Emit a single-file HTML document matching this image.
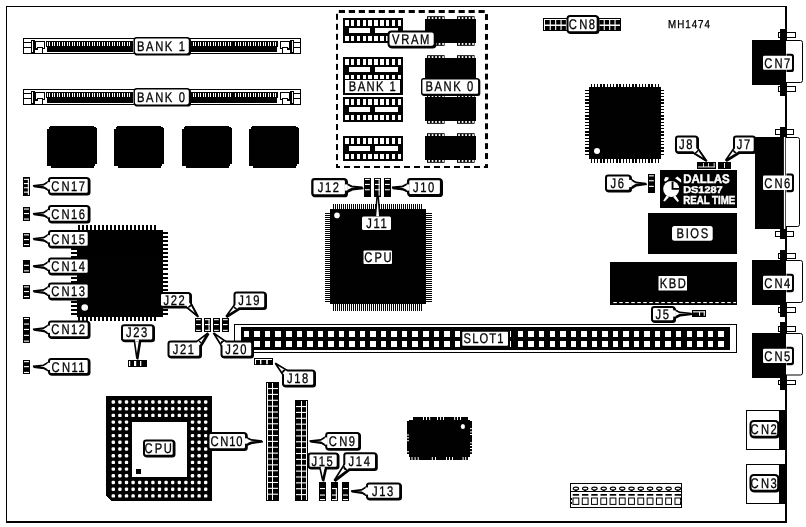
<!DOCTYPE html>
<html lang="en">
<head>
<meta charset="utf-8">
<title>MH1474 motherboard layout</title>
<style>
html,body{margin:0;padding:0;background:#fff;}
body{width:806px;height:527px;overflow:hidden;}
svg{display:block;font-family:"Liberation Sans",sans-serif;opacity:0.999;will-change:transform;}
svg rect,svg line,svg path{shape-rendering:crispEdges;}
svg .g, svg .g *{shape-rendering:geometricPrecision;}
svg text{text-rendering:geometricPrecision;}
</style>
</head>
<body>
<svg width="806" height="527" viewBox="0 0 806 527">
<rect x="0" y="0" width="806" height="527" fill="#fff"/>
<rect x="6" y="6" width="781" height="1" fill="#000" />
<rect x="6" y="6" width="1" height="517" fill="#000" />
<rect x="785" y="6" width="2" height="517" fill="#000" />
<rect x="6" y="521" width="781" height="2" fill="#000" />
<rect x="23.5" y="38.5" width="277" height="15" fill="#fff" stroke="#000" stroke-width="1"/>
<rect x="23" y="42" width="8" height="1" fill="#000" />
<rect x="23" y="47" width="8" height="1" fill="#000" />
<rect x="31" y="40" width="4" height="14" fill="#000" />
<rect x="32" y="41" width="1" height="11" fill="#fff" />
<rect x="35" y="41" width="10" height="1" fill="#000" />
<rect x="44" y="41" width="1" height="8" fill="#000" />
<rect x="43" y="48" width="2" height="1" fill="#000" />
<rect x="37" y="47" width="6" height="1" fill="#000" />
<rect x="35" y="41" width="1" height="9" fill="#000" />
<rect x="35" y="48" width="3" height="2" fill="#000" />
<rect x="42" y="47" width="1" height="7" fill="#000" />
<rect x="46" y="41" width="87" height="6" fill="#000" />
<rect x="47" y="46" width="86" height="6" fill="#000" />
<rect x="47" y="42" width="1" height="4" fill="#fff" />
<rect x="49" y="42" width="1" height="4" fill="#fff" />
<rect x="52" y="42" width="1" height="4" fill="#fff" />
<rect x="54" y="42" width="1" height="4" fill="#fff" />
<rect x="57" y="42" width="1" height="4" fill="#fff" />
<rect x="59" y="42" width="1" height="4" fill="#fff" />
<rect x="62" y="42" width="1" height="4" fill="#fff" />
<rect x="64" y="42" width="1" height="4" fill="#fff" />
<rect x="67" y="42" width="1" height="4" fill="#fff" />
<rect x="69" y="42" width="1" height="4" fill="#fff" />
<rect x="72" y="42" width="1" height="4" fill="#fff" />
<rect x="74" y="42" width="1" height="4" fill="#fff" />
<rect x="77" y="42" width="1" height="4" fill="#fff" />
<rect x="79" y="42" width="1" height="4" fill="#fff" />
<rect x="82" y="42" width="1" height="4" fill="#fff" />
<rect x="84" y="42" width="1" height="4" fill="#fff" />
<rect x="87" y="42" width="1" height="4" fill="#fff" />
<rect x="89" y="42" width="1" height="4" fill="#fff" />
<rect x="92" y="42" width="1" height="4" fill="#fff" />
<rect x="94" y="42" width="1" height="4" fill="#fff" />
<rect x="97" y="42" width="1" height="4" fill="#fff" />
<rect x="99" y="42" width="1" height="4" fill="#fff" />
<rect x="102" y="42" width="1" height="4" fill="#fff" />
<rect x="104" y="42" width="1" height="4" fill="#fff" />
<rect x="107" y="42" width="1" height="4" fill="#fff" />
<rect x="109" y="42" width="1" height="4" fill="#fff" />
<rect x="112" y="42" width="1" height="4" fill="#fff" />
<rect x="114" y="42" width="1" height="4" fill="#fff" />
<rect x="117" y="42" width="1" height="4" fill="#fff" />
<rect x="119" y="42" width="1" height="4" fill="#fff" />
<rect x="122" y="42" width="1" height="4" fill="#fff" />
<rect x="124" y="42" width="1" height="4" fill="#fff" />
<rect x="127" y="42" width="1" height="4" fill="#fff" />
<rect x="129" y="42" width="1" height="4" fill="#fff" />
<rect x="191" y="41" width="87" height="6" fill="#000" />
<rect x="191" y="46" width="86" height="6" fill="#000" />
<rect x="193" y="42" width="1" height="4" fill="#fff" />
<rect x="195" y="42" width="1" height="4" fill="#fff" />
<rect x="198" y="42" width="1" height="4" fill="#fff" />
<rect x="200" y="42" width="1" height="4" fill="#fff" />
<rect x="203" y="42" width="1" height="4" fill="#fff" />
<rect x="205" y="42" width="1" height="4" fill="#fff" />
<rect x="208" y="42" width="1" height="4" fill="#fff" />
<rect x="210" y="42" width="1" height="4" fill="#fff" />
<rect x="213" y="42" width="1" height="4" fill="#fff" />
<rect x="215" y="42" width="1" height="4" fill="#fff" />
<rect x="218" y="42" width="1" height="4" fill="#fff" />
<rect x="220" y="42" width="1" height="4" fill="#fff" />
<rect x="223" y="42" width="1" height="4" fill="#fff" />
<rect x="225" y="42" width="1" height="4" fill="#fff" />
<rect x="228" y="42" width="1" height="4" fill="#fff" />
<rect x="230" y="42" width="1" height="4" fill="#fff" />
<rect x="235" y="42" width="1" height="4" fill="#fff" />
<rect x="238" y="42" width="1" height="4" fill="#fff" />
<rect x="240" y="42" width="1" height="4" fill="#fff" />
<rect x="243" y="42" width="1" height="4" fill="#fff" />
<rect x="245" y="42" width="1" height="4" fill="#fff" />
<rect x="248" y="42" width="1" height="4" fill="#fff" />
<rect x="250" y="42" width="1" height="4" fill="#fff" />
<rect x="253" y="42" width="1" height="4" fill="#fff" />
<rect x="255" y="42" width="1" height="4" fill="#fff" />
<rect x="258" y="42" width="1" height="4" fill="#fff" />
<rect x="260" y="42" width="1" height="4" fill="#fff" />
<rect x="263" y="42" width="1" height="4" fill="#fff" />
<rect x="265" y="42" width="1" height="4" fill="#fff" />
<rect x="268" y="42" width="1" height="4" fill="#fff" />
<rect x="270" y="42" width="1" height="4" fill="#fff" />
<rect x="273" y="42" width="1" height="4" fill="#fff" />
<rect x="275" y="42" width="1" height="4" fill="#fff" />
<rect x="280" y="41" width="10" height="1" fill="#000" />
<rect x="280" y="41" width="1" height="8" fill="#000" />
<rect x="280" y="48" width="2" height="1" fill="#000" />
<rect x="282" y="47" width="6" height="1" fill="#000" />
<rect x="289" y="41" width="1" height="9" fill="#000" />
<rect x="287" y="48" width="3" height="2" fill="#000" />
<rect x="282" y="47" width="1" height="7" fill="#000" />
<rect x="290" y="40" width="4" height="14" fill="#000" />
<rect x="292" y="41" width="1" height="11" fill="#fff" />
<rect x="294" y="42" width="7" height="1" fill="#000" />
<rect x="294" y="47" width="7" height="1" fill="#000" />
<rect x="23.5" y="89.5" width="277" height="15" fill="#fff" stroke="#000" stroke-width="1"/>
<rect x="23" y="93" width="8" height="1" fill="#000" />
<rect x="23" y="98" width="8" height="1" fill="#000" />
<rect x="31" y="91" width="4" height="14" fill="#000" />
<rect x="32" y="92" width="1" height="11" fill="#fff" />
<rect x="35" y="92" width="10" height="1" fill="#000" />
<rect x="44" y="92" width="1" height="8" fill="#000" />
<rect x="43" y="99" width="2" height="1" fill="#000" />
<rect x="37" y="98" width="6" height="1" fill="#000" />
<rect x="35" y="92" width="1" height="9" fill="#000" />
<rect x="35" y="99" width="3" height="2" fill="#000" />
<rect x="42" y="98" width="1" height="7" fill="#000" />
<rect x="46" y="92" width="87" height="6" fill="#000" />
<rect x="47" y="97" width="86" height="6" fill="#000" />
<rect x="47" y="93" width="1" height="4" fill="#fff" />
<rect x="49" y="93" width="1" height="4" fill="#fff" />
<rect x="52" y="93" width="1" height="4" fill="#fff" />
<rect x="54" y="93" width="1" height="4" fill="#fff" />
<rect x="57" y="93" width="1" height="4" fill="#fff" />
<rect x="59" y="93" width="1" height="4" fill="#fff" />
<rect x="62" y="93" width="1" height="4" fill="#fff" />
<rect x="64" y="93" width="1" height="4" fill="#fff" />
<rect x="67" y="93" width="1" height="4" fill="#fff" />
<rect x="69" y="93" width="1" height="4" fill="#fff" />
<rect x="72" y="93" width="1" height="4" fill="#fff" />
<rect x="74" y="93" width="1" height="4" fill="#fff" />
<rect x="77" y="93" width="1" height="4" fill="#fff" />
<rect x="79" y="93" width="1" height="4" fill="#fff" />
<rect x="82" y="93" width="1" height="4" fill="#fff" />
<rect x="84" y="93" width="1" height="4" fill="#fff" />
<rect x="87" y="93" width="1" height="4" fill="#fff" />
<rect x="89" y="93" width="1" height="4" fill="#fff" />
<rect x="92" y="93" width="1" height="4" fill="#fff" />
<rect x="94" y="93" width="1" height="4" fill="#fff" />
<rect x="97" y="93" width="1" height="4" fill="#fff" />
<rect x="99" y="93" width="1" height="4" fill="#fff" />
<rect x="102" y="93" width="1" height="4" fill="#fff" />
<rect x="104" y="93" width="1" height="4" fill="#fff" />
<rect x="107" y="93" width="1" height="4" fill="#fff" />
<rect x="109" y="93" width="1" height="4" fill="#fff" />
<rect x="112" y="93" width="1" height="4" fill="#fff" />
<rect x="114" y="93" width="1" height="4" fill="#fff" />
<rect x="117" y="93" width="1" height="4" fill="#fff" />
<rect x="119" y="93" width="1" height="4" fill="#fff" />
<rect x="122" y="93" width="1" height="4" fill="#fff" />
<rect x="124" y="93" width="1" height="4" fill="#fff" />
<rect x="127" y="93" width="1" height="4" fill="#fff" />
<rect x="129" y="93" width="1" height="4" fill="#fff" />
<rect x="191" y="92" width="87" height="6" fill="#000" />
<rect x="191" y="97" width="86" height="6" fill="#000" />
<rect x="193" y="93" width="1" height="4" fill="#fff" />
<rect x="195" y="93" width="1" height="4" fill="#fff" />
<rect x="198" y="93" width="1" height="4" fill="#fff" />
<rect x="200" y="93" width="1" height="4" fill="#fff" />
<rect x="203" y="93" width="1" height="4" fill="#fff" />
<rect x="205" y="93" width="1" height="4" fill="#fff" />
<rect x="208" y="93" width="1" height="4" fill="#fff" />
<rect x="210" y="93" width="1" height="4" fill="#fff" />
<rect x="213" y="93" width="1" height="4" fill="#fff" />
<rect x="215" y="93" width="1" height="4" fill="#fff" />
<rect x="218" y="93" width="1" height="4" fill="#fff" />
<rect x="220" y="93" width="1" height="4" fill="#fff" />
<rect x="223" y="93" width="1" height="4" fill="#fff" />
<rect x="225" y="93" width="1" height="4" fill="#fff" />
<rect x="228" y="93" width="1" height="4" fill="#fff" />
<rect x="230" y="93" width="1" height="4" fill="#fff" />
<rect x="235" y="93" width="1" height="4" fill="#fff" />
<rect x="238" y="93" width="1" height="4" fill="#fff" />
<rect x="240" y="93" width="1" height="4" fill="#fff" />
<rect x="243" y="93" width="1" height="4" fill="#fff" />
<rect x="245" y="93" width="1" height="4" fill="#fff" />
<rect x="248" y="93" width="1" height="4" fill="#fff" />
<rect x="250" y="93" width="1" height="4" fill="#fff" />
<rect x="253" y="93" width="1" height="4" fill="#fff" />
<rect x="255" y="93" width="1" height="4" fill="#fff" />
<rect x="258" y="93" width="1" height="4" fill="#fff" />
<rect x="260" y="93" width="1" height="4" fill="#fff" />
<rect x="263" y="93" width="1" height="4" fill="#fff" />
<rect x="265" y="93" width="1" height="4" fill="#fff" />
<rect x="268" y="93" width="1" height="4" fill="#fff" />
<rect x="270" y="93" width="1" height="4" fill="#fff" />
<rect x="273" y="93" width="1" height="4" fill="#fff" />
<rect x="275" y="93" width="1" height="4" fill="#fff" />
<rect x="280" y="92" width="10" height="1" fill="#000" />
<rect x="280" y="92" width="1" height="8" fill="#000" />
<rect x="280" y="99" width="2" height="1" fill="#000" />
<rect x="282" y="98" width="6" height="1" fill="#000" />
<rect x="289" y="92" width="1" height="9" fill="#000" />
<rect x="287" y="99" width="3" height="2" fill="#000" />
<rect x="282" y="98" width="1" height="7" fill="#000" />
<rect x="290" y="91" width="4" height="14" fill="#000" />
<rect x="292" y="92" width="1" height="11" fill="#fff" />
<rect x="294" y="93" width="7" height="1" fill="#000" />
<rect x="294" y="98" width="7" height="1" fill="#000" />
<path d="M50,126 H94 V127 H96 V128 H97 V164 H95 V166 H94 V168 H51 V166 H47 V129 H49 V127 H50 Z" fill="#000"/>
<path d="M117,126 H161 V127 H163 V128 H164 V164 H162 V166 H161 V168 H118 V166 H114 V129 H116 V127 H117 Z" fill="#000"/>
<path d="M185,126 H229 V127 H231 V128 H232 V164 H230 V166 H229 V168 H186 V166 H182 V129 H184 V127 H185 Z" fill="#000"/>
<path d="M252,126 H296 V127 H298 V128 H299 V164 H297 V166 H296 V168 H253 V166 H249 V129 H251 V127 H252 Z" fill="#000"/>
<rect x="338.8" y="10" width="6.2" height="3" fill="#000" class="g"/>
<rect x="348.78" y="10" width="6.2" height="3" fill="#000" class="g"/>
<rect x="358.76" y="10" width="6.2" height="3" fill="#000" class="g"/>
<rect x="368.74" y="10" width="6.2" height="3" fill="#000" class="g"/>
<rect x="378.72" y="10" width="6.2" height="3" fill="#000" class="g"/>
<rect x="388.7" y="10" width="6.2" height="3" fill="#000" class="g"/>
<rect x="398.68" y="10" width="6.2" height="3" fill="#000" class="g"/>
<rect x="408.66" y="10" width="6.2" height="3" fill="#000" class="g"/>
<rect x="418.64" y="10" width="6.2" height="3" fill="#000" class="g"/>
<rect x="428.62" y="10" width="6.2" height="3" fill="#000" class="g"/>
<rect x="438.6" y="10" width="6.2" height="3" fill="#000" class="g"/>
<rect x="448.58" y="10" width="6.2" height="3" fill="#000" class="g"/>
<rect x="458.56" y="10" width="6.2" height="3" fill="#000" class="g"/>
<rect x="468.54" y="10" width="6.2" height="3" fill="#000" class="g"/>
<rect x="478.52" y="10" width="6.2" height="3" fill="#000" class="g"/>
<rect x="344" y="166" width="6" height="2" fill="#000" class="g"/>
<rect x="354" y="166" width="6" height="2" fill="#000" class="g"/>
<rect x="364" y="166" width="6" height="2" fill="#000" class="g"/>
<rect x="374" y="166" width="6" height="2" fill="#000" class="g"/>
<rect x="384" y="166" width="6" height="2" fill="#000" class="g"/>
<rect x="394" y="166" width="6" height="2" fill="#000" class="g"/>
<rect x="404" y="166" width="6" height="2" fill="#000" class="g"/>
<rect x="414" y="166" width="6" height="2" fill="#000" class="g"/>
<rect x="424" y="166" width="6" height="2" fill="#000" class="g"/>
<rect x="434" y="166" width="6" height="2" fill="#000" class="g"/>
<rect x="444" y="166" width="6" height="2" fill="#000" class="g"/>
<rect x="454" y="166" width="6" height="2" fill="#000" class="g"/>
<rect x="464" y="166" width="6" height="2" fill="#000" class="g"/>
<rect x="474" y="166" width="6" height="2" fill="#000" class="g"/>
<rect x="336" y="164" width="2" height="4" fill="#000" class="g"/>
<rect x="336" y="166" width="4" height="2" fill="#000" class="g"/>
<rect x="485" y="164.1" width="3" height="3.9" fill="#000" class="g"/>
<rect x="483.9" y="166" width="4.1" height="2" fill="#000" class="g"/>
<rect x="336" y="13.8" width="2" height="6" fill="#000" class="g"/>
<rect x="485" y="14.1" width="3" height="5.9" fill="#000" class="g"/>
<rect x="336" y="23.82" width="2" height="6" fill="#000" class="g"/>
<rect x="485" y="24.03" width="3" height="5.9" fill="#000" class="g"/>
<rect x="336" y="33.84" width="2" height="6" fill="#000" class="g"/>
<rect x="485" y="33.96" width="3" height="5.9" fill="#000" class="g"/>
<rect x="336" y="43.86" width="2" height="6" fill="#000" class="g"/>
<rect x="485" y="43.89" width="3" height="5.9" fill="#000" class="g"/>
<rect x="336" y="53.88" width="2" height="6" fill="#000" class="g"/>
<rect x="485" y="53.82" width="3" height="5.9" fill="#000" class="g"/>
<rect x="336" y="63.9" width="2" height="6" fill="#000" class="g"/>
<rect x="485" y="63.75" width="3" height="5.9" fill="#000" class="g"/>
<rect x="336" y="73.92" width="2" height="6" fill="#000" class="g"/>
<rect x="485" y="73.68" width="3" height="5.9" fill="#000" class="g"/>
<rect x="336" y="83.94" width="2" height="6" fill="#000" class="g"/>
<rect x="485" y="83.61" width="3" height="5.9" fill="#000" class="g"/>
<rect x="336" y="93.96" width="2" height="6" fill="#000" class="g"/>
<rect x="485" y="93.54" width="3" height="5.9" fill="#000" class="g"/>
<rect x="336" y="103.98" width="2" height="6" fill="#000" class="g"/>
<rect x="485" y="103.47" width="3" height="5.9" fill="#000" class="g"/>
<rect x="336" y="114" width="2" height="6" fill="#000" class="g"/>
<rect x="485" y="113.4" width="3" height="5.9" fill="#000" class="g"/>
<rect x="336" y="124.02" width="2" height="6" fill="#000" class="g"/>
<rect x="485" y="123.33" width="3" height="5.9" fill="#000" class="g"/>
<rect x="336" y="134.04" width="2" height="6" fill="#000" class="g"/>
<rect x="485" y="133.26" width="3" height="5.9" fill="#000" class="g"/>
<rect x="336" y="144.06" width="2" height="6" fill="#000" class="g"/>
<rect x="485" y="143.19" width="3" height="5.9" fill="#000" class="g"/>
<rect x="336" y="154.08" width="2" height="6" fill="#000" class="g"/>
<rect x="485" y="153.12" width="3" height="5.9" fill="#000" class="g"/>
<rect x="343" y="18" width="60" height="24.5" fill="#000" />
<rect x="345" y="20" width="3.5" height="6" fill="#fff" />
<rect x="345" y="36" width="3.5" height="5" fill="#fff" />
<rect x="350.5" y="20" width="3.5" height="6" fill="#fff" />
<rect x="350.5" y="36" width="3.5" height="5" fill="#fff" />
<rect x="356.5" y="20" width="3.5" height="6" fill="#fff" />
<rect x="356.5" y="36" width="3.5" height="5" fill="#fff" />
<rect x="362.5" y="20" width="3.5" height="6" fill="#fff" />
<rect x="362.5" y="36" width="3.5" height="5" fill="#fff" />
<rect x="368" y="20" width="3.5" height="6" fill="#fff" />
<rect x="368" y="36" width="3.5" height="5" fill="#fff" />
<rect x="374" y="20" width="3.5" height="6" fill="#fff" />
<rect x="374" y="36" width="3.5" height="5" fill="#fff" />
<rect x="380" y="20" width="3.5" height="6" fill="#fff" />
<rect x="380" y="36" width="3.5" height="5" fill="#fff" />
<rect x="385.5" y="20" width="3.5" height="6" fill="#fff" />
<rect x="385.5" y="36" width="3.5" height="5" fill="#fff" />
<rect x="391.5" y="20" width="3.5" height="6" fill="#fff" />
<rect x="391.5" y="36" width="3.5" height="5" fill="#fff" />
<rect x="397.5" y="20" width="3.5" height="6" fill="#fff" />
<rect x="397.5" y="36" width="3.5" height="5" fill="#fff" />
<rect x="349" y="27.5" width="21" height="5.5" fill="#fff" />
<rect x="375" y="27.5" width="22.5" height="5.5" fill="#fff" />
<rect x="343" y="57" width="60" height="24.5" fill="#000" />
<rect x="345" y="59" width="3.5" height="6" fill="#fff" />
<rect x="345" y="75" width="3.5" height="5" fill="#fff" />
<rect x="350.5" y="59" width="3.5" height="6" fill="#fff" />
<rect x="350.5" y="75" width="3.5" height="5" fill="#fff" />
<rect x="356.5" y="59" width="3.5" height="6" fill="#fff" />
<rect x="356.5" y="75" width="3.5" height="5" fill="#fff" />
<rect x="362.5" y="59" width="3.5" height="6" fill="#fff" />
<rect x="362.5" y="75" width="3.5" height="5" fill="#fff" />
<rect x="368" y="59" width="3.5" height="6" fill="#fff" />
<rect x="368" y="75" width="3.5" height="5" fill="#fff" />
<rect x="374" y="59" width="3.5" height="6" fill="#fff" />
<rect x="374" y="75" width="3.5" height="5" fill="#fff" />
<rect x="380" y="59" width="3.5" height="6" fill="#fff" />
<rect x="380" y="75" width="3.5" height="5" fill="#fff" />
<rect x="385.5" y="59" width="3.5" height="6" fill="#fff" />
<rect x="385.5" y="75" width="3.5" height="5" fill="#fff" />
<rect x="391.5" y="59" width="3.5" height="6" fill="#fff" />
<rect x="391.5" y="75" width="3.5" height="5" fill="#fff" />
<rect x="397.5" y="59" width="3.5" height="6" fill="#fff" />
<rect x="397.5" y="75" width="3.5" height="5" fill="#fff" />
<rect x="349" y="66.5" width="21" height="5.5" fill="#fff" />
<rect x="375" y="66.5" width="22.5" height="5.5" fill="#fff" />
<rect x="343" y="97" width="60" height="24.5" fill="#000" />
<rect x="345" y="99" width="3.5" height="6" fill="#fff" />
<rect x="345" y="115" width="3.5" height="5" fill="#fff" />
<rect x="350.5" y="99" width="3.5" height="6" fill="#fff" />
<rect x="350.5" y="115" width="3.5" height="5" fill="#fff" />
<rect x="356.5" y="99" width="3.5" height="6" fill="#fff" />
<rect x="356.5" y="115" width="3.5" height="5" fill="#fff" />
<rect x="362.5" y="99" width="3.5" height="6" fill="#fff" />
<rect x="362.5" y="115" width="3.5" height="5" fill="#fff" />
<rect x="368" y="99" width="3.5" height="6" fill="#fff" />
<rect x="368" y="115" width="3.5" height="5" fill="#fff" />
<rect x="374" y="99" width="3.5" height="6" fill="#fff" />
<rect x="374" y="115" width="3.5" height="5" fill="#fff" />
<rect x="380" y="99" width="3.5" height="6" fill="#fff" />
<rect x="380" y="115" width="3.5" height="5" fill="#fff" />
<rect x="385.5" y="99" width="3.5" height="6" fill="#fff" />
<rect x="385.5" y="115" width="3.5" height="5" fill="#fff" />
<rect x="391.5" y="99" width="3.5" height="6" fill="#fff" />
<rect x="391.5" y="115" width="3.5" height="5" fill="#fff" />
<rect x="397.5" y="99" width="3.5" height="6" fill="#fff" />
<rect x="397.5" y="115" width="3.5" height="5" fill="#fff" />
<rect x="349" y="106.5" width="21" height="5.5" fill="#fff" />
<rect x="375" y="106.5" width="22.5" height="5.5" fill="#fff" />
<rect x="343" y="136" width="60" height="24.5" fill="#000" />
<rect x="345" y="138" width="3.5" height="6" fill="#fff" />
<rect x="345" y="154" width="3.5" height="5" fill="#fff" />
<rect x="350.5" y="138" width="3.5" height="6" fill="#fff" />
<rect x="350.5" y="154" width="3.5" height="5" fill="#fff" />
<rect x="356.5" y="138" width="3.5" height="6" fill="#fff" />
<rect x="356.5" y="154" width="3.5" height="5" fill="#fff" />
<rect x="362.5" y="138" width="3.5" height="6" fill="#fff" />
<rect x="362.5" y="154" width="3.5" height="5" fill="#fff" />
<rect x="368" y="138" width="3.5" height="6" fill="#fff" />
<rect x="368" y="154" width="3.5" height="5" fill="#fff" />
<rect x="374" y="138" width="3.5" height="6" fill="#fff" />
<rect x="374" y="154" width="3.5" height="5" fill="#fff" />
<rect x="380" y="138" width="3.5" height="6" fill="#fff" />
<rect x="380" y="154" width="3.5" height="5" fill="#fff" />
<rect x="385.5" y="138" width="3.5" height="6" fill="#fff" />
<rect x="385.5" y="154" width="3.5" height="5" fill="#fff" />
<rect x="391.5" y="138" width="3.5" height="6" fill="#fff" />
<rect x="391.5" y="154" width="3.5" height="5" fill="#fff" />
<rect x="397.5" y="138" width="3.5" height="6" fill="#fff" />
<rect x="397.5" y="154" width="3.5" height="5" fill="#fff" />
<rect x="349" y="145.5" width="21" height="5.5" fill="#fff" />
<rect x="375" y="145.5" width="22.5" height="5.5" fill="#fff" />
<rect x="425" y="19" width="51" height="24" fill="#000" />
<rect x="427" y="16.2" width="17.6" height="3.2" fill="#000" class="g"/>
<rect x="427" y="42.6" width="17.6" height="3.2" fill="#000" class="g"/>
<rect x="428.2" y="17.1" width="1.7" height="1.9" fill="#fff" class="g"/>
<rect x="428.2" y="43" width="1.7" height="1.9" fill="#fff" class="g"/>
<rect x="431.7" y="17.1" width="1.7" height="1.9" fill="#fff" class="g"/>
<rect x="431.7" y="43" width="1.7" height="1.9" fill="#fff" class="g"/>
<rect x="435.2" y="17.1" width="1.7" height="1.9" fill="#fff" class="g"/>
<rect x="435.2" y="43" width="1.7" height="1.9" fill="#fff" class="g"/>
<rect x="438.7" y="17.1" width="1.7" height="1.9" fill="#fff" class="g"/>
<rect x="438.7" y="43" width="1.7" height="1.9" fill="#fff" class="g"/>
<rect x="442.2" y="17.1" width="1.7" height="1.9" fill="#fff" class="g"/>
<rect x="442.2" y="43" width="1.7" height="1.9" fill="#fff" class="g"/>
<rect x="457" y="16.2" width="17.6" height="3.2" fill="#000" class="g"/>
<rect x="457" y="42.6" width="17.6" height="3.2" fill="#000" class="g"/>
<rect x="458.2" y="17.1" width="1.7" height="1.9" fill="#fff" class="g"/>
<rect x="458.2" y="43" width="1.7" height="1.9" fill="#fff" class="g"/>
<rect x="461.7" y="17.1" width="1.7" height="1.9" fill="#fff" class="g"/>
<rect x="461.7" y="43" width="1.7" height="1.9" fill="#fff" class="g"/>
<rect x="465.2" y="17.1" width="1.7" height="1.9" fill="#fff" class="g"/>
<rect x="465.2" y="43" width="1.7" height="1.9" fill="#fff" class="g"/>
<rect x="468.7" y="17.1" width="1.7" height="1.9" fill="#fff" class="g"/>
<rect x="468.7" y="43" width="1.7" height="1.9" fill="#fff" class="g"/>
<rect x="472.2" y="17.1" width="1.7" height="1.9" fill="#fff" class="g"/>
<rect x="472.2" y="43" width="1.7" height="1.9" fill="#fff" class="g"/>
<rect x="425" y="58" width="51" height="24" fill="#000" />
<rect x="427" y="55.2" width="17.6" height="3.2" fill="#000" class="g"/>
<rect x="427" y="81.6" width="17.6" height="3.2" fill="#000" class="g"/>
<rect x="428.2" y="56.1" width="1.7" height="1.9" fill="#fff" class="g"/>
<rect x="428.2" y="82" width="1.7" height="1.9" fill="#fff" class="g"/>
<rect x="431.7" y="56.1" width="1.7" height="1.9" fill="#fff" class="g"/>
<rect x="431.7" y="82" width="1.7" height="1.9" fill="#fff" class="g"/>
<rect x="435.2" y="56.1" width="1.7" height="1.9" fill="#fff" class="g"/>
<rect x="435.2" y="82" width="1.7" height="1.9" fill="#fff" class="g"/>
<rect x="438.7" y="56.1" width="1.7" height="1.9" fill="#fff" class="g"/>
<rect x="438.7" y="82" width="1.7" height="1.9" fill="#fff" class="g"/>
<rect x="442.2" y="56.1" width="1.7" height="1.9" fill="#fff" class="g"/>
<rect x="442.2" y="82" width="1.7" height="1.9" fill="#fff" class="g"/>
<rect x="457" y="55.2" width="17.6" height="3.2" fill="#000" class="g"/>
<rect x="457" y="81.6" width="17.6" height="3.2" fill="#000" class="g"/>
<rect x="458.2" y="56.1" width="1.7" height="1.9" fill="#fff" class="g"/>
<rect x="458.2" y="82" width="1.7" height="1.9" fill="#fff" class="g"/>
<rect x="461.7" y="56.1" width="1.7" height="1.9" fill="#fff" class="g"/>
<rect x="461.7" y="82" width="1.7" height="1.9" fill="#fff" class="g"/>
<rect x="465.2" y="56.1" width="1.7" height="1.9" fill="#fff" class="g"/>
<rect x="465.2" y="82" width="1.7" height="1.9" fill="#fff" class="g"/>
<rect x="468.7" y="56.1" width="1.7" height="1.9" fill="#fff" class="g"/>
<rect x="468.7" y="82" width="1.7" height="1.9" fill="#fff" class="g"/>
<rect x="472.2" y="56.1" width="1.7" height="1.9" fill="#fff" class="g"/>
<rect x="472.2" y="82" width="1.7" height="1.9" fill="#fff" class="g"/>
<rect x="425" y="97" width="51" height="24" fill="#000" />
<rect x="427" y="94.2" width="17.6" height="3.2" fill="#000" class="g"/>
<rect x="427" y="120.6" width="17.6" height="3.2" fill="#000" class="g"/>
<rect x="428.2" y="95.1" width="1.7" height="1.9" fill="#fff" class="g"/>
<rect x="428.2" y="121" width="1.7" height="1.9" fill="#fff" class="g"/>
<rect x="431.7" y="95.1" width="1.7" height="1.9" fill="#fff" class="g"/>
<rect x="431.7" y="121" width="1.7" height="1.9" fill="#fff" class="g"/>
<rect x="435.2" y="95.1" width="1.7" height="1.9" fill="#fff" class="g"/>
<rect x="435.2" y="121" width="1.7" height="1.9" fill="#fff" class="g"/>
<rect x="438.7" y="95.1" width="1.7" height="1.9" fill="#fff" class="g"/>
<rect x="438.7" y="121" width="1.7" height="1.9" fill="#fff" class="g"/>
<rect x="442.2" y="95.1" width="1.7" height="1.9" fill="#fff" class="g"/>
<rect x="442.2" y="121" width="1.7" height="1.9" fill="#fff" class="g"/>
<rect x="457" y="94.2" width="17.6" height="3.2" fill="#000" class="g"/>
<rect x="457" y="120.6" width="17.6" height="3.2" fill="#000" class="g"/>
<rect x="458.2" y="95.1" width="1.7" height="1.9" fill="#fff" class="g"/>
<rect x="458.2" y="121" width="1.7" height="1.9" fill="#fff" class="g"/>
<rect x="461.7" y="95.1" width="1.7" height="1.9" fill="#fff" class="g"/>
<rect x="461.7" y="121" width="1.7" height="1.9" fill="#fff" class="g"/>
<rect x="465.2" y="95.1" width="1.7" height="1.9" fill="#fff" class="g"/>
<rect x="465.2" y="121" width="1.7" height="1.9" fill="#fff" class="g"/>
<rect x="468.7" y="95.1" width="1.7" height="1.9" fill="#fff" class="g"/>
<rect x="468.7" y="121" width="1.7" height="1.9" fill="#fff" class="g"/>
<rect x="472.2" y="95.1" width="1.7" height="1.9" fill="#fff" class="g"/>
<rect x="472.2" y="121" width="1.7" height="1.9" fill="#fff" class="g"/>
<rect x="425" y="136" width="51" height="24" fill="#000" />
<rect x="427" y="133.2" width="17.6" height="3.2" fill="#000" class="g"/>
<rect x="427" y="159.6" width="17.6" height="3.2" fill="#000" class="g"/>
<rect x="428.2" y="134.1" width="1.7" height="1.9" fill="#fff" class="g"/>
<rect x="428.2" y="160" width="1.7" height="1.9" fill="#fff" class="g"/>
<rect x="431.7" y="134.1" width="1.7" height="1.9" fill="#fff" class="g"/>
<rect x="431.7" y="160" width="1.7" height="1.9" fill="#fff" class="g"/>
<rect x="435.2" y="134.1" width="1.7" height="1.9" fill="#fff" class="g"/>
<rect x="435.2" y="160" width="1.7" height="1.9" fill="#fff" class="g"/>
<rect x="438.7" y="134.1" width="1.7" height="1.9" fill="#fff" class="g"/>
<rect x="438.7" y="160" width="1.7" height="1.9" fill="#fff" class="g"/>
<rect x="442.2" y="134.1" width="1.7" height="1.9" fill="#fff" class="g"/>
<rect x="442.2" y="160" width="1.7" height="1.9" fill="#fff" class="g"/>
<rect x="457" y="133.2" width="17.6" height="3.2" fill="#000" class="g"/>
<rect x="457" y="159.6" width="17.6" height="3.2" fill="#000" class="g"/>
<rect x="458.2" y="134.1" width="1.7" height="1.9" fill="#fff" class="g"/>
<rect x="458.2" y="160" width="1.7" height="1.9" fill="#fff" class="g"/>
<rect x="461.7" y="134.1" width="1.7" height="1.9" fill="#fff" class="g"/>
<rect x="461.7" y="160" width="1.7" height="1.9" fill="#fff" class="g"/>
<rect x="465.2" y="134.1" width="1.7" height="1.9" fill="#fff" class="g"/>
<rect x="465.2" y="160" width="1.7" height="1.9" fill="#fff" class="g"/>
<rect x="468.7" y="134.1" width="1.7" height="1.9" fill="#fff" class="g"/>
<rect x="468.7" y="160" width="1.7" height="1.9" fill="#fff" class="g"/>
<rect x="472.2" y="134.1" width="1.7" height="1.9" fill="#fff" class="g"/>
<rect x="472.2" y="160" width="1.7" height="1.9" fill="#fff" class="g"/>
<rect x="543" y="18" width="78" height="13" fill="#000" />
<rect x="544" y="19" width="76" height="1" fill="#fff" />
<rect x="544" y="19" width="1" height="11" fill="#fff" />
<rect x="544" y="24.5" width="76" height="1.5" fill="#fff" class="g"/>
<rect x="549.7" y="19" width="1.1" height="11" fill="#fff" class="g"/>
<rect x="555.1" y="19" width="1.1" height="11" fill="#fff" class="g"/>
<rect x="560.5" y="19" width="1.1" height="11" fill="#fff" class="g"/>
<rect x="565.9" y="19" width="1.1" height="11" fill="#fff" class="g"/>
<rect x="571.3" y="19" width="1.1" height="11" fill="#fff" class="g"/>
<rect x="576.7" y="19" width="1.1" height="11" fill="#fff" class="g"/>
<rect x="582.1" y="19" width="1.1" height="11" fill="#fff" class="g"/>
<rect x="587.5" y="19" width="1.1" height="11" fill="#fff" class="g"/>
<rect x="592.9" y="19" width="1.1" height="11" fill="#fff" class="g"/>
<rect x="598.3" y="19" width="1.1" height="11" fill="#fff" class="g"/>
<rect x="603.7" y="19" width="1.1" height="11" fill="#fff" class="g"/>
<rect x="609.1" y="19" width="1.1" height="11" fill="#fff" class="g"/>
<rect x="614.5" y="19" width="1.1" height="11" fill="#fff" class="g"/>
<rect x="589" y="87" width="72" height="71.5" fill="#000" />
<rect x="590.5" y="83.5" width="1.5" height="3.5" fill="#000" />
<rect x="590.5" y="158.5" width="1.5" height="4.2" fill="#000" />
<rect x="593.7" y="83.5" width="1.5" height="3.5" fill="#000" />
<rect x="593.7" y="158.5" width="1.5" height="4.2" fill="#000" />
<rect x="596.9" y="83.5" width="1.5" height="3.5" fill="#000" />
<rect x="596.9" y="158.5" width="1.5" height="4.2" fill="#000" />
<rect x="600.1" y="83.5" width="1.5" height="3.5" fill="#000" />
<rect x="600.1" y="158.5" width="1.5" height="4.2" fill="#000" />
<rect x="603.3" y="83.5" width="1.5" height="3.5" fill="#000" />
<rect x="603.3" y="158.5" width="1.5" height="4.2" fill="#000" />
<rect x="606.5" y="83.5" width="1.5" height="3.5" fill="#000" />
<rect x="606.5" y="158.5" width="1.5" height="4.2" fill="#000" />
<rect x="609.7" y="83.5" width="1.5" height="3.5" fill="#000" />
<rect x="609.7" y="158.5" width="1.5" height="4.2" fill="#000" />
<rect x="612.9" y="83.5" width="1.5" height="3.5" fill="#000" />
<rect x="612.9" y="158.5" width="1.5" height="4.2" fill="#000" />
<rect x="616.1" y="83.5" width="1.5" height="3.5" fill="#000" />
<rect x="616.1" y="158.5" width="1.5" height="4.2" fill="#000" />
<rect x="619.3" y="83.5" width="1.5" height="3.5" fill="#000" />
<rect x="619.3" y="158.5" width="1.5" height="4.2" fill="#000" />
<rect x="622.5" y="83.5" width="1.5" height="3.5" fill="#000" />
<rect x="622.5" y="158.5" width="1.5" height="4.2" fill="#000" />
<rect x="625.7" y="83.5" width="1.5" height="3.5" fill="#000" />
<rect x="625.7" y="158.5" width="1.5" height="4.2" fill="#000" />
<rect x="628.9" y="83.5" width="1.5" height="3.5" fill="#000" />
<rect x="628.9" y="158.5" width="1.5" height="4.2" fill="#000" />
<rect x="632.1" y="83.5" width="1.5" height="3.5" fill="#000" />
<rect x="632.1" y="158.5" width="1.5" height="4.2" fill="#000" />
<rect x="635.3" y="83.5" width="1.5" height="3.5" fill="#000" />
<rect x="635.3" y="158.5" width="1.5" height="4.2" fill="#000" />
<rect x="638.5" y="83.5" width="1.5" height="3.5" fill="#000" />
<rect x="638.5" y="158.5" width="1.5" height="4.2" fill="#000" />
<rect x="641.7" y="83.5" width="1.5" height="3.5" fill="#000" />
<rect x="641.7" y="158.5" width="1.5" height="4.2" fill="#000" />
<rect x="644.9" y="83.5" width="1.5" height="3.5" fill="#000" />
<rect x="644.9" y="158.5" width="1.5" height="4.2" fill="#000" />
<rect x="648.1" y="83.5" width="1.5" height="3.5" fill="#000" />
<rect x="648.1" y="158.5" width="1.5" height="4.2" fill="#000" />
<rect x="651.3" y="83.5" width="1.5" height="3.5" fill="#000" />
<rect x="651.3" y="158.5" width="1.5" height="4.2" fill="#000" />
<rect x="654.5" y="83.5" width="1.5" height="3.5" fill="#000" />
<rect x="654.5" y="158.5" width="1.5" height="4.2" fill="#000" />
<rect x="657.7" y="83.5" width="1.5" height="3.5" fill="#000" />
<rect x="657.7" y="158.5" width="1.5" height="4.2" fill="#000" />
<rect x="585" y="89.5" width="4" height="1.5" fill="#000" />
<rect x="661" y="89.5" width="3" height="1.5" fill="#000" />
<rect x="585" y="92.7" width="4" height="1.5" fill="#000" />
<rect x="661" y="92.7" width="3" height="1.5" fill="#000" />
<rect x="585" y="95.9" width="4" height="1.5" fill="#000" />
<rect x="661" y="95.9" width="3" height="1.5" fill="#000" />
<rect x="585" y="99.1" width="4" height="1.5" fill="#000" />
<rect x="661" y="99.1" width="3" height="1.5" fill="#000" />
<rect x="585" y="102.3" width="4" height="1.5" fill="#000" />
<rect x="661" y="102.3" width="3" height="1.5" fill="#000" />
<rect x="585" y="105.5" width="4" height="1.5" fill="#000" />
<rect x="661" y="105.5" width="3" height="1.5" fill="#000" />
<rect x="585" y="108.7" width="4" height="1.5" fill="#000" />
<rect x="661" y="108.7" width="3" height="1.5" fill="#000" />
<rect x="585" y="111.9" width="4" height="1.5" fill="#000" />
<rect x="661" y="111.9" width="3" height="1.5" fill="#000" />
<rect x="585" y="115.1" width="4" height="1.5" fill="#000" />
<rect x="661" y="115.1" width="3" height="1.5" fill="#000" />
<rect x="585" y="118.3" width="4" height="1.5" fill="#000" />
<rect x="661" y="118.3" width="3" height="1.5" fill="#000" />
<rect x="585" y="121.5" width="4" height="1.5" fill="#000" />
<rect x="661" y="121.5" width="3" height="1.5" fill="#000" />
<rect x="585" y="124.7" width="4" height="1.5" fill="#000" />
<rect x="661" y="124.7" width="3" height="1.5" fill="#000" />
<rect x="585" y="127.9" width="4" height="1.5" fill="#000" />
<rect x="661" y="127.9" width="3" height="1.5" fill="#000" />
<rect x="585" y="131.1" width="4" height="1.5" fill="#000" />
<rect x="661" y="131.1" width="3" height="1.5" fill="#000" />
<rect x="585" y="134.3" width="4" height="1.5" fill="#000" />
<rect x="661" y="134.3" width="3" height="1.5" fill="#000" />
<rect x="585" y="137.5" width="4" height="1.5" fill="#000" />
<rect x="661" y="137.5" width="3" height="1.5" fill="#000" />
<rect x="585" y="140.7" width="4" height="1.5" fill="#000" />
<rect x="661" y="140.7" width="3" height="1.5" fill="#000" />
<rect x="585" y="143.9" width="4" height="1.5" fill="#000" />
<rect x="661" y="143.9" width="3" height="1.5" fill="#000" />
<rect x="585" y="147.1" width="4" height="1.5" fill="#000" />
<rect x="661" y="147.1" width="3" height="1.5" fill="#000" />
<rect x="585" y="150.3" width="4" height="1.5" fill="#000" />
<rect x="661" y="150.3" width="3" height="1.5" fill="#000" />
<rect x="585" y="153.5" width="4" height="1.5" fill="#000" />
<rect x="661" y="153.5" width="3" height="1.5" fill="#000" />
<circle cx="597" cy="151" r="3" fill="#fff" class="g"/>
<rect x="77" y="230" width="86" height="86.5" fill="#000" />
<rect x="77.5" y="225.3" width="2" height="4.7" fill="#000" />
<rect x="77.5" y="316.5" width="2" height="4.2" fill="#000" />
<rect x="81.55" y="225.3" width="2" height="4.7" fill="#000" />
<rect x="81.55" y="316.5" width="2" height="4.2" fill="#000" />
<rect x="85.6" y="225.3" width="2" height="4.7" fill="#000" />
<rect x="85.6" y="316.5" width="2" height="4.2" fill="#000" />
<rect x="89.65" y="225.3" width="2" height="4.7" fill="#000" />
<rect x="89.65" y="316.5" width="2" height="4.2" fill="#000" />
<rect x="93.7" y="225.3" width="2" height="4.7" fill="#000" />
<rect x="93.7" y="316.5" width="2" height="4.2" fill="#000" />
<rect x="97.75" y="225.3" width="2" height="4.7" fill="#000" />
<rect x="97.75" y="316.5" width="2" height="4.2" fill="#000" />
<rect x="101.8" y="225.3" width="2" height="4.7" fill="#000" />
<rect x="101.8" y="316.5" width="2" height="4.2" fill="#000" />
<rect x="105.85" y="225.3" width="2" height="4.7" fill="#000" />
<rect x="105.85" y="316.5" width="2" height="4.2" fill="#000" />
<rect x="109.9" y="225.3" width="2" height="4.7" fill="#000" />
<rect x="109.9" y="316.5" width="2" height="4.2" fill="#000" />
<rect x="113.95" y="225.3" width="2" height="4.7" fill="#000" />
<rect x="113.95" y="316.5" width="2" height="4.2" fill="#000" />
<rect x="118" y="225.3" width="2" height="4.7" fill="#000" />
<rect x="118" y="316.5" width="2" height="4.2" fill="#000" />
<rect x="122.05" y="225.3" width="2" height="4.7" fill="#000" />
<rect x="122.05" y="316.5" width="2" height="4.2" fill="#000" />
<rect x="126.1" y="225.3" width="2" height="4.7" fill="#000" />
<rect x="126.1" y="316.5" width="2" height="4.2" fill="#000" />
<rect x="130.15" y="225.3" width="2" height="4.7" fill="#000" />
<rect x="130.15" y="316.5" width="2" height="4.2" fill="#000" />
<rect x="134.2" y="225.3" width="2" height="4.7" fill="#000" />
<rect x="134.2" y="316.5" width="2" height="4.2" fill="#000" />
<rect x="138.25" y="225.3" width="2" height="4.7" fill="#000" />
<rect x="138.25" y="316.5" width="2" height="4.2" fill="#000" />
<rect x="142.3" y="225.3" width="2" height="4.7" fill="#000" />
<rect x="142.3" y="316.5" width="2" height="4.2" fill="#000" />
<rect x="146.35" y="225.3" width="2" height="4.7" fill="#000" />
<rect x="146.35" y="316.5" width="2" height="4.2" fill="#000" />
<rect x="150.4" y="225.3" width="2" height="4.7" fill="#000" />
<rect x="150.4" y="316.5" width="2" height="4.2" fill="#000" />
<rect x="154.45" y="225.3" width="2" height="4.7" fill="#000" />
<rect x="154.45" y="316.5" width="2" height="4.2" fill="#000" />
<rect x="71" y="232" width="6" height="2" fill="#000" />
<rect x="163" y="232" width="4.6" height="2" fill="#000" />
<rect x="71" y="236.05" width="6" height="2" fill="#000" />
<rect x="163" y="236.05" width="4.6" height="2" fill="#000" />
<rect x="71" y="240.1" width="6" height="2" fill="#000" />
<rect x="163" y="240.1" width="4.6" height="2" fill="#000" />
<rect x="71" y="244.15" width="6" height="2" fill="#000" />
<rect x="163" y="244.15" width="4.6" height="2" fill="#000" />
<rect x="71" y="248.2" width="6" height="2" fill="#000" />
<rect x="163" y="248.2" width="4.6" height="2" fill="#000" />
<rect x="71" y="252.25" width="6" height="2" fill="#000" />
<rect x="163" y="252.25" width="4.6" height="2" fill="#000" />
<rect x="71" y="256.3" width="6" height="2" fill="#000" />
<rect x="163" y="256.3" width="4.6" height="2" fill="#000" />
<rect x="71" y="260.35" width="6" height="2" fill="#000" />
<rect x="163" y="260.35" width="4.6" height="2" fill="#000" />
<rect x="71" y="264.4" width="6" height="2" fill="#000" />
<rect x="163" y="264.4" width="4.6" height="2" fill="#000" />
<rect x="71" y="268.45" width="6" height="2" fill="#000" />
<rect x="163" y="268.45" width="4.6" height="2" fill="#000" />
<rect x="71" y="272.5" width="6" height="2" fill="#000" />
<rect x="163" y="272.5" width="4.6" height="2" fill="#000" />
<rect x="71" y="276.55" width="6" height="2" fill="#000" />
<rect x="163" y="276.55" width="4.6" height="2" fill="#000" />
<rect x="71" y="280.6" width="6" height="2" fill="#000" />
<rect x="163" y="280.6" width="4.6" height="2" fill="#000" />
<rect x="71" y="284.65" width="6" height="2" fill="#000" />
<rect x="163" y="284.65" width="4.6" height="2" fill="#000" />
<rect x="71" y="288.7" width="6" height="2" fill="#000" />
<rect x="163" y="288.7" width="4.6" height="2" fill="#000" />
<rect x="71" y="292.75" width="6" height="2" fill="#000" />
<rect x="163" y="292.75" width="4.6" height="2" fill="#000" />
<rect x="71" y="296.8" width="6" height="2" fill="#000" />
<rect x="163" y="296.8" width="4.6" height="2" fill="#000" />
<rect x="71" y="300.85" width="6" height="2" fill="#000" />
<rect x="163" y="300.85" width="4.6" height="2" fill="#000" />
<rect x="71" y="304.9" width="6" height="2" fill="#000" />
<rect x="163" y="304.9" width="4.6" height="2" fill="#000" />
<rect x="71" y="308.95" width="6" height="2" fill="#000" />
<rect x="163" y="308.95" width="4.6" height="2" fill="#000" />
<rect x="71" y="313" width="6" height="2" fill="#000" />
<rect x="163" y="313" width="4.6" height="2" fill="#000" />
<circle cx="84.7" cy="307.5" r="3.3" fill="#fff" class="g"/>
<rect x="330" y="209" width="96" height="95.4" fill="#000" />
<rect x="333" y="204" width="1" height="5" fill="#000" />
<rect x="333" y="304.4" width="1" height="6.4" fill="#000" />
<rect x="335" y="204" width="1" height="5" fill="#000" />
<rect x="335" y="304.4" width="1" height="6.4" fill="#000" />
<rect x="337" y="204" width="1" height="5" fill="#000" />
<rect x="337" y="304.4" width="1" height="6.4" fill="#000" />
<rect x="339" y="204" width="1" height="5" fill="#000" />
<rect x="339" y="304.4" width="1" height="6.4" fill="#000" />
<rect x="341" y="204" width="1" height="5" fill="#000" />
<rect x="341" y="304.4" width="1" height="6.4" fill="#000" />
<rect x="343" y="204" width="1" height="5" fill="#000" />
<rect x="343" y="304.4" width="1" height="6.4" fill="#000" />
<rect x="345" y="204" width="1" height="5" fill="#000" />
<rect x="345" y="304.4" width="1" height="6.4" fill="#000" />
<rect x="347" y="204" width="1" height="5" fill="#000" />
<rect x="347" y="304.4" width="1" height="6.4" fill="#000" />
<rect x="349" y="204" width="1" height="5" fill="#000" />
<rect x="349" y="304.4" width="1" height="6.4" fill="#000" />
<rect x="351" y="204" width="1" height="5" fill="#000" />
<rect x="351" y="304.4" width="1" height="6.4" fill="#000" />
<rect x="353" y="204" width="1" height="5" fill="#000" />
<rect x="353" y="304.4" width="1" height="6.4" fill="#000" />
<rect x="355" y="204" width="1" height="5" fill="#000" />
<rect x="355" y="304.4" width="1" height="6.4" fill="#000" />
<rect x="357" y="204" width="1" height="5" fill="#000" />
<rect x="357" y="304.4" width="1" height="6.4" fill="#000" />
<rect x="359" y="204" width="1" height="5" fill="#000" />
<rect x="359" y="304.4" width="1" height="6.4" fill="#000" />
<rect x="361" y="204" width="1" height="5" fill="#000" />
<rect x="361" y="304.4" width="1" height="6.4" fill="#000" />
<rect x="363" y="204" width="1" height="5" fill="#000" />
<rect x="363" y="304.4" width="1" height="6.4" fill="#000" />
<rect x="365" y="204" width="1" height="5" fill="#000" />
<rect x="365" y="304.4" width="1" height="6.4" fill="#000" />
<rect x="367" y="204" width="1" height="5" fill="#000" />
<rect x="367" y="304.4" width="1" height="6.4" fill="#000" />
<rect x="369" y="204" width="1" height="5" fill="#000" />
<rect x="369" y="304.4" width="1" height="6.4" fill="#000" />
<rect x="371" y="204" width="1" height="5" fill="#000" />
<rect x="371" y="304.4" width="1" height="6.4" fill="#000" />
<rect x="373" y="204" width="1" height="5" fill="#000" />
<rect x="373" y="304.4" width="1" height="6.4" fill="#000" />
<rect x="375" y="204" width="1" height="5" fill="#000" />
<rect x="375" y="304.4" width="1" height="6.4" fill="#000" />
<rect x="377" y="204" width="1" height="5" fill="#000" />
<rect x="377" y="304.4" width="1" height="6.4" fill="#000" />
<rect x="379" y="204" width="1" height="5" fill="#000" />
<rect x="379" y="304.4" width="1" height="6.4" fill="#000" />
<rect x="381" y="204" width="1" height="5" fill="#000" />
<rect x="381" y="304.4" width="1" height="6.4" fill="#000" />
<rect x="383" y="204" width="1" height="5" fill="#000" />
<rect x="383" y="304.4" width="1" height="6.4" fill="#000" />
<rect x="385" y="204" width="1" height="5" fill="#000" />
<rect x="385" y="304.4" width="1" height="6.4" fill="#000" />
<rect x="387" y="204" width="1" height="5" fill="#000" />
<rect x="387" y="304.4" width="1" height="6.4" fill="#000" />
<rect x="389" y="204" width="1" height="5" fill="#000" />
<rect x="389" y="304.4" width="1" height="6.4" fill="#000" />
<rect x="391" y="204" width="1" height="5" fill="#000" />
<rect x="391" y="304.4" width="1" height="6.4" fill="#000" />
<rect x="393" y="204" width="1" height="5" fill="#000" />
<rect x="393" y="304.4" width="1" height="6.4" fill="#000" />
<rect x="395" y="204" width="1" height="5" fill="#000" />
<rect x="395" y="304.4" width="1" height="6.4" fill="#000" />
<rect x="397" y="204" width="1" height="5" fill="#000" />
<rect x="397" y="304.4" width="1" height="6.4" fill="#000" />
<rect x="399" y="204" width="1" height="5" fill="#000" />
<rect x="399" y="304.4" width="1" height="6.4" fill="#000" />
<rect x="401" y="204" width="1" height="5" fill="#000" />
<rect x="401" y="304.4" width="1" height="6.4" fill="#000" />
<rect x="403" y="204" width="1" height="5" fill="#000" />
<rect x="403" y="304.4" width="1" height="6.4" fill="#000" />
<rect x="405" y="204" width="1" height="5" fill="#000" />
<rect x="405" y="304.4" width="1" height="6.4" fill="#000" />
<rect x="407" y="204" width="1" height="5" fill="#000" />
<rect x="407" y="304.4" width="1" height="6.4" fill="#000" />
<rect x="409" y="204" width="1" height="5" fill="#000" />
<rect x="409" y="304.4" width="1" height="6.4" fill="#000" />
<rect x="411" y="204" width="1" height="5" fill="#000" />
<rect x="411" y="304.4" width="1" height="6.4" fill="#000" />
<rect x="413" y="204" width="1" height="5" fill="#000" />
<rect x="413" y="304.4" width="1" height="6.4" fill="#000" />
<rect x="415" y="204" width="1" height="5" fill="#000" />
<rect x="415" y="304.4" width="1" height="6.4" fill="#000" />
<rect x="417" y="204" width="1" height="5" fill="#000" />
<rect x="417" y="304.4" width="1" height="6.4" fill="#000" />
<rect x="419" y="204" width="1" height="5" fill="#000" />
<rect x="419" y="304.4" width="1" height="6.4" fill="#000" />
<rect x="421" y="204" width="1" height="5" fill="#000" />
<rect x="421" y="304.4" width="1" height="6.4" fill="#000" />
<rect x="325.2" y="212.8" width="4.8" height="1" fill="#000" />
<rect x="426" y="212.8" width="6" height="1" fill="#000" />
<rect x="325.2" y="214.8" width="4.8" height="1" fill="#000" />
<rect x="426" y="214.8" width="6" height="1" fill="#000" />
<rect x="325.2" y="216.8" width="4.8" height="1" fill="#000" />
<rect x="426" y="216.8" width="6" height="1" fill="#000" />
<rect x="325.2" y="218.8" width="4.8" height="1" fill="#000" />
<rect x="426" y="218.8" width="6" height="1" fill="#000" />
<rect x="325.2" y="220.8" width="4.8" height="1" fill="#000" />
<rect x="426" y="220.8" width="6" height="1" fill="#000" />
<rect x="325.2" y="222.8" width="4.8" height="1" fill="#000" />
<rect x="426" y="222.8" width="6" height="1" fill="#000" />
<rect x="325.2" y="224.8" width="4.8" height="1" fill="#000" />
<rect x="426" y="224.8" width="6" height="1" fill="#000" />
<rect x="325.2" y="226.8" width="4.8" height="1" fill="#000" />
<rect x="426" y="226.8" width="6" height="1" fill="#000" />
<rect x="325.2" y="228.8" width="4.8" height="1" fill="#000" />
<rect x="426" y="228.8" width="6" height="1" fill="#000" />
<rect x="325.2" y="230.8" width="4.8" height="1" fill="#000" />
<rect x="426" y="230.8" width="6" height="1" fill="#000" />
<rect x="325.2" y="232.8" width="4.8" height="1" fill="#000" />
<rect x="426" y="232.8" width="6" height="1" fill="#000" />
<rect x="325.2" y="234.8" width="4.8" height="1" fill="#000" />
<rect x="426" y="234.8" width="6" height="1" fill="#000" />
<rect x="325.2" y="236.8" width="4.8" height="1" fill="#000" />
<rect x="426" y="236.8" width="6" height="1" fill="#000" />
<rect x="325.2" y="238.8" width="4.8" height="1" fill="#000" />
<rect x="426" y="238.8" width="6" height="1" fill="#000" />
<rect x="325.2" y="240.8" width="4.8" height="1" fill="#000" />
<rect x="426" y="240.8" width="6" height="1" fill="#000" />
<rect x="325.2" y="242.8" width="4.8" height="1" fill="#000" />
<rect x="426" y="242.8" width="6" height="1" fill="#000" />
<rect x="325.2" y="244.8" width="4.8" height="1" fill="#000" />
<rect x="426" y="244.8" width="6" height="1" fill="#000" />
<rect x="325.2" y="246.8" width="4.8" height="1" fill="#000" />
<rect x="426" y="246.8" width="6" height="1" fill="#000" />
<rect x="325.2" y="248.8" width="4.8" height="1" fill="#000" />
<rect x="426" y="248.8" width="6" height="1" fill="#000" />
<rect x="325.2" y="250.8" width="4.8" height="1" fill="#000" />
<rect x="426" y="250.8" width="6" height="1" fill="#000" />
<rect x="325.2" y="252.8" width="4.8" height="1" fill="#000" />
<rect x="426" y="252.8" width="6" height="1" fill="#000" />
<rect x="325.2" y="254.8" width="4.8" height="1" fill="#000" />
<rect x="426" y="254.8" width="6" height="1" fill="#000" />
<rect x="325.2" y="256.8" width="4.8" height="1" fill="#000" />
<rect x="426" y="256.8" width="6" height="1" fill="#000" />
<rect x="325.2" y="258.8" width="4.8" height="1" fill="#000" />
<rect x="426" y="258.8" width="6" height="1" fill="#000" />
<rect x="325.2" y="260.8" width="4.8" height="1" fill="#000" />
<rect x="426" y="260.8" width="6" height="1" fill="#000" />
<rect x="325.2" y="262.8" width="4.8" height="1" fill="#000" />
<rect x="426" y="262.8" width="6" height="1" fill="#000" />
<rect x="325.2" y="264.8" width="4.8" height="1" fill="#000" />
<rect x="426" y="264.8" width="6" height="1" fill="#000" />
<rect x="325.2" y="266.8" width="4.8" height="1" fill="#000" />
<rect x="426" y="266.8" width="6" height="1" fill="#000" />
<rect x="325.2" y="268.8" width="4.8" height="1" fill="#000" />
<rect x="426" y="268.8" width="6" height="1" fill="#000" />
<rect x="325.2" y="270.8" width="4.8" height="1" fill="#000" />
<rect x="426" y="270.8" width="6" height="1" fill="#000" />
<rect x="325.2" y="272.8" width="4.8" height="1" fill="#000" />
<rect x="426" y="272.8" width="6" height="1" fill="#000" />
<rect x="325.2" y="274.8" width="4.8" height="1" fill="#000" />
<rect x="426" y="274.8" width="6" height="1" fill="#000" />
<rect x="325.2" y="276.8" width="4.8" height="1" fill="#000" />
<rect x="426" y="276.8" width="6" height="1" fill="#000" />
<rect x="325.2" y="278.8" width="4.8" height="1" fill="#000" />
<rect x="426" y="278.8" width="6" height="1" fill="#000" />
<rect x="325.2" y="280.8" width="4.8" height="1" fill="#000" />
<rect x="426" y="280.8" width="6" height="1" fill="#000" />
<rect x="325.2" y="282.8" width="4.8" height="1" fill="#000" />
<rect x="426" y="282.8" width="6" height="1" fill="#000" />
<rect x="325.2" y="284.8" width="4.8" height="1" fill="#000" />
<rect x="426" y="284.8" width="6" height="1" fill="#000" />
<rect x="325.2" y="286.8" width="4.8" height="1" fill="#000" />
<rect x="426" y="286.8" width="6" height="1" fill="#000" />
<rect x="325.2" y="288.8" width="4.8" height="1" fill="#000" />
<rect x="426" y="288.8" width="6" height="1" fill="#000" />
<rect x="325.2" y="290.8" width="4.8" height="1" fill="#000" />
<rect x="426" y="290.8" width="6" height="1" fill="#000" />
<rect x="325.2" y="292.8" width="4.8" height="1" fill="#000" />
<rect x="426" y="292.8" width="6" height="1" fill="#000" />
<rect x="325.2" y="294.8" width="4.8" height="1" fill="#000" />
<rect x="426" y="294.8" width="6" height="1" fill="#000" />
<rect x="325.2" y="296.8" width="4.8" height="1" fill="#000" />
<rect x="426" y="296.8" width="6" height="1" fill="#000" />
<rect x="325.2" y="298.8" width="4.8" height="1" fill="#000" />
<rect x="426" y="298.8" width="6" height="1" fill="#000" />
<rect x="325.2" y="300.8" width="4.8" height="1" fill="#000" />
<rect x="426" y="300.8" width="6" height="1" fill="#000" />
<circle cx="337" cy="215.4" r="2.8" fill="#fff" class="g"/>
<path d="M413,417 H468 V420 H470 V421 H472 V454 H470 V457 H468 V460 H410 V457 H409 V454 H407 V421 H409 V420 H413 Z" fill="#000"/>
<rect x="423" y="417" width="1" height="3" fill="#fff" class="g"/>
<rect x="426" y="417" width="1" height="3" fill="#fff" class="g"/>
<rect x="429.2" y="417" width="1" height="3" fill="#fff" class="g"/>
<rect x="437" y="417" width="1" height="3" fill="#fff" class="g"/>
<rect x="440.1" y="417" width="1" height="3" fill="#fff" class="g"/>
<rect x="443" y="417" width="1" height="3" fill="#fff" class="g"/>
<rect x="454.2" y="417" width="1" height="3" fill="#fff" class="g"/>
<rect x="457" y="417" width="1" height="3" fill="#fff" class="g"/>
<rect x="460" y="417" width="1" height="3" fill="#fff" class="g"/>
<rect x="411.5" y="457" width="1" height="3" fill="#fff" class="g"/>
<rect x="414.6" y="457" width="1" height="3" fill="#fff" class="g"/>
<rect x="417.7" y="457" width="1" height="3" fill="#fff" class="g"/>
<rect x="431.8" y="457" width="1" height="3" fill="#fff" class="g"/>
<rect x="435" y="457" width="1" height="3" fill="#fff" class="g"/>
<rect x="446" y="457" width="1" height="3" fill="#fff" class="g"/>
<rect x="449" y="457" width="1" height="3" fill="#fff" class="g"/>
<rect x="452" y="457" width="1" height="3" fill="#fff" class="g"/>
<rect x="462.6" y="457" width="1" height="3" fill="#fff" class="g"/>
<rect x="465.2" y="457" width="1" height="3" fill="#fff" class="g"/>
<rect x="407" y="434.5" width="2" height="1" fill="#fff" class="g"/>
<rect x="407" y="437.3" width="2" height="1" fill="#fff" class="g"/>
<rect x="407" y="440.2" width="2" height="1" fill="#fff" class="g"/>
<rect x="407" y="451.2" width="2" height="1" fill="#fff" class="g"/>
<rect x="470" y="428.2" width="2" height="1" fill="#fff" class="g"/>
<rect x="470" y="431.4" width="2" height="1" fill="#fff" class="g"/>
<rect x="470" y="434" width="2" height="1" fill="#fff" class="g"/>
<rect x="470" y="442.3" width="2" height="1" fill="#fff" class="g"/>
<rect x="470" y="445" width="2" height="1" fill="#fff" class="g"/>
<rect x="470" y="448" width="2" height="1" fill="#fff" class="g"/>
<rect x="470" y="451.2" width="2" height="1" fill="#fff" class="g"/>
<ellipse cx="462.9" cy="426.5" rx="2.1" ry="2.6" fill="#fff" class="g"/>
<rect x="660" y="170" width="77" height="38" fill="#000" />
<rect x="648" y="213" width="89" height="41" fill="#000" />
<rect x="610" y="262" width="127" height="42.7" fill="#000" />
<rect x="613.3" y="302" width="3.5" height="1.1" fill="#fff" class="g"/>
<rect x="619.3" y="302" width="3.5" height="1.1" fill="#fff" class="g"/>
<rect x="625.3" y="302" width="3.5" height="1.1" fill="#fff" class="g"/>
<rect x="631.3" y="302" width="3.5" height="1.1" fill="#fff" class="g"/>
<rect x="637.3" y="302" width="3.5" height="1.1" fill="#fff" class="g"/>
<rect x="643.3" y="302" width="3.5" height="1.1" fill="#fff" class="g"/>
<rect x="649.3" y="302" width="3.5" height="1.1" fill="#fff" class="g"/>
<rect x="655.3" y="302" width="3.5" height="1.1" fill="#fff" class="g"/>
<rect x="661.3" y="302" width="3.5" height="1.1" fill="#fff" class="g"/>
<rect x="667.3" y="302" width="3.5" height="1.1" fill="#fff" class="g"/>
<rect x="673.3" y="302" width="3.5" height="1.1" fill="#fff" class="g"/>
<rect x="679.3" y="302" width="3.5" height="1.1" fill="#fff" class="g"/>
<rect x="685.3" y="302" width="3.5" height="1.1" fill="#fff" class="g"/>
<rect x="691.3" y="302" width="3.5" height="1.1" fill="#fff" class="g"/>
<rect x="697.3" y="302" width="3.5" height="1.1" fill="#fff" class="g"/>
<rect x="703.3" y="302" width="3.5" height="1.1" fill="#fff" class="g"/>
<rect x="709.3" y="302" width="3.5" height="1.1" fill="#fff" class="g"/>
<rect x="715.3" y="302" width="3.5" height="1.1" fill="#fff" class="g"/>
<rect x="721.3" y="302" width="3.5" height="1.1" fill="#fff" class="g"/>
<rect x="727.3" y="302" width="3.5" height="1.1" fill="#fff" class="g"/>
<rect x="733.3" y="302" width="2.7" height="1.1" fill="#fff" class="g"/>
<g class="g" fill="#fff" stroke="none"><circle cx="671.2" cy="189" r="8"/><path d="M664,180 l1.5,-3 l3.5,0.5 l-1,2.2 l-3,2 z"/><path d="M675,178.2 l2.5,-1.7 l3.5,3 l0.3,3.2 z"/><path d="M666.5,195.5 l-3.3,5.2 l1.6,0.8 l4.2,-4.6 z"/><path d="M675.5,195.5 l3.6,5.6 l-1.6,0.8 l-4.4,-5 z"/><path d="M671.6,181.5 h1.9 v6.4 h6 v1.8 h-7.9 z" fill="#000"/></g>
<text x="683.2" y="183" font-size="12.4" font-weight="bold" fill="#fff" stroke="#fff" stroke-width="0.5" textLength="46.5" lengthAdjust="spacingAndGlyphs">DALLAS</text>
<text x="683.2" y="192.8" font-size="9.8" font-weight="bold" fill="#fff" stroke="#fff" stroke-width="0.5" textLength="39.5" lengthAdjust="spacingAndGlyphs">DS1287</text>
<text x="683.2" y="204" font-size="11.8" font-weight="bold" fill="#fff" stroke="#fff" stroke-width="0.5" textLength="52" lengthAdjust="spacingAndGlyphs">REAL TIME</text>
<rect x="234.5" y="324.5" width="502" height="28" fill="#fff" stroke="#000" stroke-width="1"/>
<rect x="240.5" y="327" width="489.5" height="23" fill="#000" />
<rect x="243.5" y="331" width="5.5" height="6" fill="#fff" />
<rect x="243.5" y="341" width="5.5" height="6" fill="#fff" />
<rect x="254" y="331" width="5.5" height="6" fill="#fff" />
<rect x="254" y="341" width="5.5" height="6" fill="#fff" />
<rect x="264.5" y="331" width="5.5" height="6" fill="#fff" />
<rect x="264.5" y="341" width="5.5" height="6" fill="#fff" />
<rect x="275" y="331" width="5.5" height="6" fill="#fff" />
<rect x="275" y="341" width="5.5" height="6" fill="#fff" />
<rect x="286" y="331" width="5.5" height="6" fill="#fff" />
<rect x="286" y="341" width="5.5" height="6" fill="#fff" />
<rect x="296.5" y="331" width="5.5" height="6" fill="#fff" />
<rect x="296.5" y="341" width="5.5" height="6" fill="#fff" />
<rect x="307" y="331" width="5.5" height="6" fill="#fff" />
<rect x="307" y="341" width="5.5" height="6" fill="#fff" />
<rect x="317.5" y="331" width="5.5" height="6" fill="#fff" />
<rect x="317.5" y="341" width="5.5" height="6" fill="#fff" />
<rect x="328" y="331" width="5.5" height="6" fill="#fff" />
<rect x="328" y="341" width="5.5" height="6" fill="#fff" />
<rect x="338.5" y="331" width="5.5" height="6" fill="#fff" />
<rect x="338.5" y="341" width="5.5" height="6" fill="#fff" />
<rect x="349" y="331" width="5.5" height="6" fill="#fff" />
<rect x="349" y="341" width="5.5" height="6" fill="#fff" />
<rect x="359.5" y="331" width="5.5" height="6" fill="#fff" />
<rect x="359.5" y="341" width="5.5" height="6" fill="#fff" />
<rect x="370" y="331" width="5.5" height="6" fill="#fff" />
<rect x="370" y="341" width="5.5" height="6" fill="#fff" />
<rect x="380.5" y="331" width="5.5" height="6" fill="#fff" />
<rect x="380.5" y="341" width="5.5" height="6" fill="#fff" />
<rect x="391" y="331" width="5.5" height="6" fill="#fff" />
<rect x="391" y="341" width="5.5" height="6" fill="#fff" />
<rect x="401.5" y="331" width="5.5" height="6" fill="#fff" />
<rect x="401.5" y="341" width="5.5" height="6" fill="#fff" />
<rect x="412" y="331" width="5.5" height="6" fill="#fff" />
<rect x="412" y="341" width="5.5" height="6" fill="#fff" />
<rect x="423" y="331" width="5.5" height="6" fill="#fff" />
<rect x="423" y="341" width="5.5" height="6" fill="#fff" />
<rect x="433.5" y="331" width="5.5" height="6" fill="#fff" />
<rect x="433.5" y="341" width="5.5" height="6" fill="#fff" />
<rect x="444" y="331" width="5.5" height="6" fill="#fff" />
<rect x="444" y="341" width="5.5" height="6" fill="#fff" />
<rect x="454.5" y="331" width="5.5" height="6" fill="#fff" />
<rect x="454.5" y="341" width="5.5" height="6" fill="#fff" />
<rect x="465" y="331" width="5.5" height="6" fill="#fff" />
<rect x="465" y="341" width="5.5" height="6" fill="#fff" />
<rect x="475.5" y="331" width="5.5" height="6" fill="#fff" />
<rect x="475.5" y="341" width="5.5" height="6" fill="#fff" />
<rect x="486" y="331" width="5.5" height="6" fill="#fff" />
<rect x="486" y="341" width="5.5" height="6" fill="#fff" />
<rect x="496.5" y="331" width="5.5" height="6" fill="#fff" />
<rect x="496.5" y="341" width="5.5" height="6" fill="#fff" />
<rect x="507" y="331" width="5.5" height="6" fill="#fff" />
<rect x="507" y="341" width="5.5" height="6" fill="#fff" />
<rect x="517.5" y="331" width="5.5" height="6" fill="#fff" />
<rect x="517.5" y="341" width="5.5" height="6" fill="#fff" />
<rect x="528" y="331" width="5.5" height="6" fill="#fff" />
<rect x="528" y="341" width="5.5" height="6" fill="#fff" />
<rect x="538.5" y="331" width="5.5" height="6" fill="#fff" />
<rect x="538.5" y="341" width="5.5" height="6" fill="#fff" />
<rect x="549.5" y="331" width="5.5" height="6" fill="#fff" />
<rect x="549.5" y="341" width="5.5" height="6" fill="#fff" />
<rect x="560" y="331" width="5.5" height="6" fill="#fff" />
<rect x="560" y="341" width="5.5" height="6" fill="#fff" />
<rect x="570.5" y="331" width="5.5" height="6" fill="#fff" />
<rect x="570.5" y="341" width="5.5" height="6" fill="#fff" />
<rect x="581" y="331" width="5.5" height="6" fill="#fff" />
<rect x="581" y="341" width="5.5" height="6" fill="#fff" />
<rect x="591.5" y="331" width="5.5" height="6" fill="#fff" />
<rect x="591.5" y="341" width="5.5" height="6" fill="#fff" />
<rect x="602" y="331" width="5.5" height="6" fill="#fff" />
<rect x="602" y="341" width="5.5" height="6" fill="#fff" />
<rect x="612.5" y="331" width="5.5" height="6" fill="#fff" />
<rect x="612.5" y="341" width="5.5" height="6" fill="#fff" />
<rect x="623" y="331" width="5.5" height="6" fill="#fff" />
<rect x="623" y="341" width="5.5" height="6" fill="#fff" />
<rect x="633.5" y="331" width="5.5" height="6" fill="#fff" />
<rect x="633.5" y="341" width="5.5" height="6" fill="#fff" />
<rect x="644" y="331" width="5.5" height="6" fill="#fff" />
<rect x="644" y="341" width="5.5" height="6" fill="#fff" />
<rect x="654.5" y="331" width="5.5" height="6" fill="#fff" />
<rect x="654.5" y="341" width="5.5" height="6" fill="#fff" />
<rect x="665" y="331" width="5.5" height="6" fill="#fff" />
<rect x="665" y="341" width="5.5" height="6" fill="#fff" />
<rect x="675.5" y="331" width="5.5" height="6" fill="#fff" />
<rect x="675.5" y="341" width="5.5" height="6" fill="#fff" />
<rect x="686.5" y="331" width="5.5" height="6" fill="#fff" />
<rect x="686.5" y="341" width="5.5" height="6" fill="#fff" />
<rect x="697" y="331" width="5.5" height="6" fill="#fff" />
<rect x="697" y="341" width="5.5" height="6" fill="#fff" />
<rect x="707.5" y="331" width="5.5" height="6" fill="#fff" />
<rect x="707.5" y="341" width="5.5" height="6" fill="#fff" />
<rect x="718" y="331" width="5.5" height="6" fill="#fff" />
<rect x="718" y="341" width="5.5" height="6" fill="#fff" />
<rect x="266" y="382" width="13" height="118.5" fill="#000" />
<rect x="267" y="383" width="1" height="116.5" fill="#fff" />
<rect x="272" y="383" width="1.2" height="116.5" fill="#fff" />
<rect x="267" y="388.00" width="11" height="1.1" fill="#fff" class="g"/>
<rect x="267" y="393.87" width="11" height="1.1" fill="#fff" class="g"/>
<rect x="267" y="399.74" width="11" height="1.1" fill="#fff" class="g"/>
<rect x="267" y="405.61" width="11" height="1.1" fill="#fff" class="g"/>
<rect x="267" y="411.48" width="11" height="1.1" fill="#fff" class="g"/>
<rect x="267" y="417.35" width="11" height="1.1" fill="#fff" class="g"/>
<rect x="267" y="423.22" width="11" height="1.1" fill="#fff" class="g"/>
<rect x="267" y="429.09" width="11" height="1.1" fill="#fff" class="g"/>
<rect x="267" y="434.96" width="11" height="1.1" fill="#fff" class="g"/>
<rect x="267" y="440.83" width="11" height="1.1" fill="#fff" class="g"/>
<rect x="267" y="446.70" width="11" height="1.1" fill="#fff" class="g"/>
<rect x="267" y="452.57" width="11" height="1.1" fill="#fff" class="g"/>
<rect x="267" y="458.44" width="11" height="1.1" fill="#fff" class="g"/>
<rect x="267" y="464.31" width="11" height="1.1" fill="#fff" class="g"/>
<rect x="267" y="470.18" width="11" height="1.1" fill="#fff" class="g"/>
<rect x="267" y="476.05" width="11" height="1.1" fill="#fff" class="g"/>
<rect x="267" y="481.92" width="11" height="1.1" fill="#fff" class="g"/>
<rect x="267" y="487.79" width="11" height="1.1" fill="#fff" class="g"/>
<rect x="267" y="493.66" width="11" height="1.1" fill="#fff" class="g"/>
<rect x="295" y="400" width="13" height="100.5" fill="#000" />
<rect x="300.8" y="401" width="1.1" height="98.5" fill="#fff" />
<rect x="306" y="401" width="1" height="98.5" fill="#fff" />
<rect x="296" y="406.00" width="11" height="1.1" fill="#fff" class="g"/>
<rect x="296" y="411.87" width="11" height="1.1" fill="#fff" class="g"/>
<rect x="296" y="417.74" width="11" height="1.1" fill="#fff" class="g"/>
<rect x="296" y="423.61" width="11" height="1.1" fill="#fff" class="g"/>
<rect x="296" y="429.48" width="11" height="1.1" fill="#fff" class="g"/>
<rect x="296" y="435.35" width="11" height="1.1" fill="#fff" class="g"/>
<rect x="296" y="441.22" width="11" height="1.1" fill="#fff" class="g"/>
<rect x="296" y="447.09" width="11" height="1.1" fill="#fff" class="g"/>
<rect x="296" y="452.96" width="11" height="1.1" fill="#fff" class="g"/>
<rect x="296" y="458.83" width="11" height="1.1" fill="#fff" class="g"/>
<rect x="296" y="464.70" width="11" height="1.1" fill="#fff" class="g"/>
<rect x="296" y="470.57" width="11" height="1.1" fill="#fff" class="g"/>
<rect x="296" y="476.44" width="11" height="1.1" fill="#fff" class="g"/>
<rect x="296" y="482.31" width="11" height="1.1" fill="#fff" class="g"/>
<rect x="296" y="488.18" width="11" height="1.1" fill="#fff" class="g"/>
<rect x="296" y="494.05" width="11" height="1.1" fill="#fff" class="g"/>
<path d="M106,396 H212 V501 H111 L106,496 Z" fill="#000"/>
<rect x="111.6" y="400.3" width="3.4" height="3.4" rx="1.2" fill="#fff" class="g"/>
<rect x="118.2" y="400.3" width="3.4" height="3.4" rx="1.2" fill="#fff" class="g"/>
<rect x="124.8" y="400.3" width="3.4" height="3.4" rx="1.2" fill="#fff" class="g"/>
<rect x="131.4" y="400.3" width="3.4" height="3.4" rx="1.2" fill="#fff" class="g"/>
<rect x="138.0" y="400.3" width="3.4" height="3.4" rx="1.2" fill="#fff" class="g"/>
<rect x="144.6" y="400.3" width="3.4" height="3.4" rx="1.2" fill="#fff" class="g"/>
<rect x="151.2" y="400.3" width="3.4" height="3.4" rx="1.2" fill="#fff" class="g"/>
<rect x="157.8" y="400.3" width="3.4" height="3.4" rx="1.2" fill="#fff" class="g"/>
<rect x="164.4" y="400.3" width="3.4" height="3.4" rx="1.2" fill="#fff" class="g"/>
<rect x="171.0" y="400.3" width="3.4" height="3.4" rx="1.2" fill="#fff" class="g"/>
<rect x="177.6" y="400.3" width="3.4" height="3.4" rx="1.2" fill="#fff" class="g"/>
<rect x="184.2" y="400.3" width="3.4" height="3.4" rx="1.2" fill="#fff" class="g"/>
<rect x="190.8" y="400.3" width="3.4" height="3.4" rx="1.2" fill="#fff" class="g"/>
<rect x="197.4" y="400.3" width="3.4" height="3.4" rx="1.2" fill="#fff" class="g"/>
<rect x="204.0" y="400.3" width="3.4" height="3.4" rx="1.2" fill="#fff" class="g"/>
<rect x="111.6" y="407.0" width="3.4" height="3.4" rx="1.2" fill="#fff" class="g"/>
<rect x="118.2" y="407.0" width="3.4" height="3.4" rx="1.2" fill="#fff" class="g"/>
<rect x="124.8" y="407.0" width="3.4" height="3.4" rx="1.2" fill="#fff" class="g"/>
<rect x="131.4" y="407.0" width="3.4" height="3.4" rx="1.2" fill="#fff" class="g"/>
<rect x="138.0" y="407.0" width="3.4" height="3.4" rx="1.2" fill="#fff" class="g"/>
<rect x="144.6" y="407.0" width="3.4" height="3.4" rx="1.2" fill="#fff" class="g"/>
<rect x="151.2" y="407.0" width="3.4" height="3.4" rx="1.2" fill="#fff" class="g"/>
<rect x="157.8" y="407.0" width="3.4" height="3.4" rx="1.2" fill="#fff" class="g"/>
<rect x="164.4" y="407.0" width="3.4" height="3.4" rx="1.2" fill="#fff" class="g"/>
<rect x="171.0" y="407.0" width="3.4" height="3.4" rx="1.2" fill="#fff" class="g"/>
<rect x="177.6" y="407.0" width="3.4" height="3.4" rx="1.2" fill="#fff" class="g"/>
<rect x="184.2" y="407.0" width="3.4" height="3.4" rx="1.2" fill="#fff" class="g"/>
<rect x="190.8" y="407.0" width="3.4" height="3.4" rx="1.2" fill="#fff" class="g"/>
<rect x="197.4" y="407.0" width="3.4" height="3.4" rx="1.2" fill="#fff" class="g"/>
<rect x="204.0" y="407.0" width="3.4" height="3.4" rx="1.2" fill="#fff" class="g"/>
<rect x="111.6" y="413.7" width="3.4" height="3.4" rx="1.2" fill="#fff" class="g"/>
<rect x="118.2" y="413.7" width="3.4" height="3.4" rx="1.2" fill="#fff" class="g"/>
<rect x="124.8" y="413.7" width="3.4" height="3.4" rx="1.2" fill="#fff" class="g"/>
<rect x="131.4" y="413.7" width="3.4" height="3.4" rx="1.2" fill="#fff" class="g"/>
<rect x="138.0" y="413.7" width="3.4" height="3.4" rx="1.2" fill="#fff" class="g"/>
<rect x="144.6" y="413.7" width="3.4" height="3.4" rx="1.2" fill="#fff" class="g"/>
<rect x="151.2" y="413.7" width="3.4" height="3.4" rx="1.2" fill="#fff" class="g"/>
<rect x="157.8" y="413.7" width="3.4" height="3.4" rx="1.2" fill="#fff" class="g"/>
<rect x="164.4" y="413.7" width="3.4" height="3.4" rx="1.2" fill="#fff" class="g"/>
<rect x="171.0" y="413.7" width="3.4" height="3.4" rx="1.2" fill="#fff" class="g"/>
<rect x="177.6" y="413.7" width="3.4" height="3.4" rx="1.2" fill="#fff" class="g"/>
<rect x="184.2" y="413.7" width="3.4" height="3.4" rx="1.2" fill="#fff" class="g"/>
<rect x="190.8" y="413.7" width="3.4" height="3.4" rx="1.2" fill="#fff" class="g"/>
<rect x="197.4" y="413.7" width="3.4" height="3.4" rx="1.2" fill="#fff" class="g"/>
<rect x="204.0" y="413.7" width="3.4" height="3.4" rx="1.2" fill="#fff" class="g"/>
<rect x="111.6" y="420.4" width="3.4" height="3.4" rx="1.2" fill="#fff" class="g"/>
<rect x="118.2" y="420.4" width="3.4" height="3.4" rx="1.2" fill="#fff" class="g"/>
<rect x="124.8" y="420.4" width="3.4" height="3.4" rx="1.2" fill="#fff" class="g"/>
<rect x="190.8" y="420.4" width="3.4" height="3.4" rx="1.2" fill="#fff" class="g"/>
<rect x="197.4" y="420.4" width="3.4" height="3.4" rx="1.2" fill="#fff" class="g"/>
<rect x="204.0" y="420.4" width="3.4" height="3.4" rx="1.2" fill="#fff" class="g"/>
<rect x="111.6" y="427.1" width="3.4" height="3.4" rx="1.2" fill="#fff" class="g"/>
<rect x="118.2" y="427.1" width="3.4" height="3.4" rx="1.2" fill="#fff" class="g"/>
<rect x="124.8" y="427.1" width="3.4" height="3.4" rx="1.2" fill="#fff" class="g"/>
<rect x="190.8" y="427.1" width="3.4" height="3.4" rx="1.2" fill="#fff" class="g"/>
<rect x="197.4" y="427.1" width="3.4" height="3.4" rx="1.2" fill="#fff" class="g"/>
<rect x="204.0" y="427.1" width="3.4" height="3.4" rx="1.2" fill="#fff" class="g"/>
<rect x="111.6" y="433.9" width="3.4" height="3.4" rx="1.2" fill="#fff" class="g"/>
<rect x="118.2" y="433.9" width="3.4" height="3.4" rx="1.2" fill="#fff" class="g"/>
<rect x="124.8" y="433.9" width="3.4" height="3.4" rx="1.2" fill="#fff" class="g"/>
<rect x="190.8" y="433.9" width="3.4" height="3.4" rx="1.2" fill="#fff" class="g"/>
<rect x="197.4" y="433.9" width="3.4" height="3.4" rx="1.2" fill="#fff" class="g"/>
<rect x="204.0" y="433.9" width="3.4" height="3.4" rx="1.2" fill="#fff" class="g"/>
<rect x="111.6" y="440.6" width="3.4" height="3.4" rx="1.2" fill="#fff" class="g"/>
<rect x="118.2" y="440.6" width="3.4" height="3.4" rx="1.2" fill="#fff" class="g"/>
<rect x="124.8" y="440.6" width="3.4" height="3.4" rx="1.2" fill="#fff" class="g"/>
<rect x="190.8" y="440.6" width="3.4" height="3.4" rx="1.2" fill="#fff" class="g"/>
<rect x="197.4" y="440.6" width="3.4" height="3.4" rx="1.2" fill="#fff" class="g"/>
<rect x="204.0" y="440.6" width="3.4" height="3.4" rx="1.2" fill="#fff" class="g"/>
<rect x="111.6" y="447.3" width="3.4" height="3.4" rx="1.2" fill="#fff" class="g"/>
<rect x="118.2" y="447.3" width="3.4" height="3.4" rx="1.2" fill="#fff" class="g"/>
<rect x="124.8" y="447.3" width="3.4" height="3.4" rx="1.2" fill="#fff" class="g"/>
<rect x="190.8" y="447.3" width="3.4" height="3.4" rx="1.2" fill="#fff" class="g"/>
<rect x="197.4" y="447.3" width="3.4" height="3.4" rx="1.2" fill="#fff" class="g"/>
<rect x="204.0" y="447.3" width="3.4" height="3.4" rx="1.2" fill="#fff" class="g"/>
<rect x="111.6" y="454.0" width="3.4" height="3.4" rx="1.2" fill="#fff" class="g"/>
<rect x="118.2" y="454.0" width="3.4" height="3.4" rx="1.2" fill="#fff" class="g"/>
<rect x="124.8" y="454.0" width="3.4" height="3.4" rx="1.2" fill="#fff" class="g"/>
<rect x="190.8" y="454.0" width="3.4" height="3.4" rx="1.2" fill="#fff" class="g"/>
<rect x="197.4" y="454.0" width="3.4" height="3.4" rx="1.2" fill="#fff" class="g"/>
<rect x="204.0" y="454.0" width="3.4" height="3.4" rx="1.2" fill="#fff" class="g"/>
<rect x="111.6" y="460.7" width="3.4" height="3.4" rx="1.2" fill="#fff" class="g"/>
<rect x="118.2" y="460.7" width="3.4" height="3.4" rx="1.2" fill="#fff" class="g"/>
<rect x="124.8" y="460.7" width="3.4" height="3.4" rx="1.2" fill="#fff" class="g"/>
<rect x="190.8" y="460.7" width="3.4" height="3.4" rx="1.2" fill="#fff" class="g"/>
<rect x="197.4" y="460.7" width="3.4" height="3.4" rx="1.2" fill="#fff" class="g"/>
<rect x="204.0" y="460.7" width="3.4" height="3.4" rx="1.2" fill="#fff" class="g"/>
<rect x="111.6" y="467.4" width="3.4" height="3.4" rx="1.2" fill="#fff" class="g"/>
<rect x="118.2" y="467.4" width="3.4" height="3.4" rx="1.2" fill="#fff" class="g"/>
<rect x="124.8" y="467.4" width="3.4" height="3.4" rx="1.2" fill="#fff" class="g"/>
<rect x="190.8" y="467.4" width="3.4" height="3.4" rx="1.2" fill="#fff" class="g"/>
<rect x="197.4" y="467.4" width="3.4" height="3.4" rx="1.2" fill="#fff" class="g"/>
<rect x="204.0" y="467.4" width="3.4" height="3.4" rx="1.2" fill="#fff" class="g"/>
<rect x="111.6" y="474.1" width="3.4" height="3.4" rx="1.2" fill="#fff" class="g"/>
<rect x="118.2" y="474.1" width="3.4" height="3.4" rx="1.2" fill="#fff" class="g"/>
<rect x="124.8" y="474.1" width="3.4" height="3.4" rx="1.2" fill="#fff" class="g"/>
<rect x="190.8" y="474.1" width="3.4" height="3.4" rx="1.2" fill="#fff" class="g"/>
<rect x="197.4" y="474.1" width="3.4" height="3.4" rx="1.2" fill="#fff" class="g"/>
<rect x="204.0" y="474.1" width="3.4" height="3.4" rx="1.2" fill="#fff" class="g"/>
<rect x="111.6" y="480.8" width="3.4" height="3.4" rx="1.2" fill="#fff" class="g"/>
<rect x="118.2" y="480.8" width="3.4" height="3.4" rx="1.2" fill="#fff" class="g"/>
<rect x="124.8" y="480.8" width="3.4" height="3.4" rx="1.2" fill="#fff" class="g"/>
<rect x="131.4" y="480.8" width="3.4" height="3.4" rx="1.2" fill="#fff" class="g"/>
<rect x="138.0" y="480.8" width="3.4" height="3.4" rx="1.2" fill="#fff" class="g"/>
<rect x="144.6" y="480.8" width="3.4" height="3.4" rx="1.2" fill="#fff" class="g"/>
<rect x="151.2" y="480.8" width="3.4" height="3.4" rx="1.2" fill="#fff" class="g"/>
<rect x="157.8" y="480.8" width="3.4" height="3.4" rx="1.2" fill="#fff" class="g"/>
<rect x="164.4" y="480.8" width="3.4" height="3.4" rx="1.2" fill="#fff" class="g"/>
<rect x="171.0" y="480.8" width="3.4" height="3.4" rx="1.2" fill="#fff" class="g"/>
<rect x="177.6" y="480.8" width="3.4" height="3.4" rx="1.2" fill="#fff" class="g"/>
<rect x="184.2" y="480.8" width="3.4" height="3.4" rx="1.2" fill="#fff" class="g"/>
<rect x="190.8" y="480.8" width="3.4" height="3.4" rx="1.2" fill="#fff" class="g"/>
<rect x="197.4" y="480.8" width="3.4" height="3.4" rx="1.2" fill="#fff" class="g"/>
<rect x="204.0" y="480.8" width="3.4" height="3.4" rx="1.2" fill="#fff" class="g"/>
<rect x="111.6" y="487.5" width="3.4" height="3.4" rx="1.2" fill="#fff" class="g"/>
<rect x="118.2" y="487.5" width="3.4" height="3.4" rx="1.2" fill="#fff" class="g"/>
<rect x="124.8" y="487.5" width="3.4" height="3.4" rx="1.2" fill="#fff" class="g"/>
<rect x="131.4" y="487.5" width="3.4" height="3.4" rx="1.2" fill="#fff" class="g"/>
<rect x="138.0" y="487.5" width="3.4" height="3.4" rx="1.2" fill="#fff" class="g"/>
<rect x="144.6" y="487.5" width="3.4" height="3.4" rx="1.2" fill="#fff" class="g"/>
<rect x="151.2" y="487.5" width="3.4" height="3.4" rx="1.2" fill="#fff" class="g"/>
<rect x="157.8" y="487.5" width="3.4" height="3.4" rx="1.2" fill="#fff" class="g"/>
<rect x="164.4" y="487.5" width="3.4" height="3.4" rx="1.2" fill="#fff" class="g"/>
<rect x="171.0" y="487.5" width="3.4" height="3.4" rx="1.2" fill="#fff" class="g"/>
<rect x="177.6" y="487.5" width="3.4" height="3.4" rx="1.2" fill="#fff" class="g"/>
<rect x="184.2" y="487.5" width="3.4" height="3.4" rx="1.2" fill="#fff" class="g"/>
<rect x="190.8" y="487.5" width="3.4" height="3.4" rx="1.2" fill="#fff" class="g"/>
<rect x="197.4" y="487.5" width="3.4" height="3.4" rx="1.2" fill="#fff" class="g"/>
<rect x="204.0" y="487.5" width="3.4" height="3.4" rx="1.2" fill="#fff" class="g"/>
<rect x="111.6" y="494.2" width="3.4" height="3.4" rx="1.2" fill="#fff" class="g"/>
<rect x="118.2" y="494.2" width="3.4" height="3.4" rx="1.2" fill="#fff" class="g"/>
<rect x="124.8" y="494.2" width="3.4" height="3.4" rx="1.2" fill="#fff" class="g"/>
<rect x="131.4" y="494.2" width="3.4" height="3.4" rx="1.2" fill="#fff" class="g"/>
<rect x="138.0" y="494.2" width="3.4" height="3.4" rx="1.2" fill="#fff" class="g"/>
<rect x="144.6" y="494.2" width="3.4" height="3.4" rx="1.2" fill="#fff" class="g"/>
<rect x="151.2" y="494.2" width="3.4" height="3.4" rx="1.2" fill="#fff" class="g"/>
<rect x="157.8" y="494.2" width="3.4" height="3.4" rx="1.2" fill="#fff" class="g"/>
<rect x="164.4" y="494.2" width="3.4" height="3.4" rx="1.2" fill="#fff" class="g"/>
<rect x="171.0" y="494.2" width="3.4" height="3.4" rx="1.2" fill="#fff" class="g"/>
<rect x="177.6" y="494.2" width="3.4" height="3.4" rx="1.2" fill="#fff" class="g"/>
<rect x="184.2" y="494.2" width="3.4" height="3.4" rx="1.2" fill="#fff" class="g"/>
<rect x="190.8" y="494.2" width="3.4" height="3.4" rx="1.2" fill="#fff" class="g"/>
<rect x="197.4" y="494.2" width="3.4" height="3.4" rx="1.2" fill="#fff" class="g"/>
<rect x="204.0" y="494.2" width="3.4" height="3.4" rx="1.2" fill="#fff" class="g"/>
<rect x="132" y="422" width="54.5" height="54.5" fill="#fff" />
<rect x="135.5" y="469" width="5" height="5" fill="#000" />
<rect x="570.5" y="483.5" width="111" height="24" fill="#fff" stroke="#000" stroke-width="1"/>
<rect x="570" y="491" width="112" height="1" fill="#000" />
<ellipse cx="575.9" cy="488.6" rx="2.7" ry="1.5" fill="#fff" stroke="#000" stroke-width="1.1" class="g"/>
<rect x="574.9" y="489.8" width="2" height="1.4" fill="#000" class="g"/>
<rect x="572.7" y="494" width="6.4" height="1.7" fill="#000" class="g"/>
<rect x="573" y="498" width="5.8" height="6.4" fill="#fff" stroke="#000" stroke-width="1" class="g"/>
<ellipse cx="585.17" cy="488.6" rx="2.7" ry="1.5" fill="#fff" stroke="#000" stroke-width="1.1" class="g"/>
<rect x="584.17" y="489.8" width="2" height="1.4" fill="#000" class="g"/>
<rect x="581.97" y="494" width="6.4" height="1.7" fill="#000" class="g"/>
<rect x="582.27" y="498" width="5.8" height="6.4" fill="#fff" stroke="#000" stroke-width="1" class="g"/>
<ellipse cx="594.44" cy="488.6" rx="2.7" ry="1.5" fill="#fff" stroke="#000" stroke-width="1.1" class="g"/>
<rect x="593.44" y="489.8" width="2" height="1.4" fill="#000" class="g"/>
<rect x="591.24" y="494" width="6.4" height="1.7" fill="#000" class="g"/>
<rect x="591.54" y="498" width="5.8" height="6.4" fill="#fff" stroke="#000" stroke-width="1" class="g"/>
<ellipse cx="603.71" cy="488.6" rx="2.7" ry="1.5" fill="#fff" stroke="#000" stroke-width="1.1" class="g"/>
<rect x="602.71" y="489.8" width="2" height="1.4" fill="#000" class="g"/>
<rect x="600.51" y="494" width="6.4" height="1.7" fill="#000" class="g"/>
<rect x="600.81" y="498" width="5.8" height="6.4" fill="#fff" stroke="#000" stroke-width="1" class="g"/>
<ellipse cx="612.98" cy="488.6" rx="2.7" ry="1.5" fill="#fff" stroke="#000" stroke-width="1.1" class="g"/>
<rect x="611.98" y="489.8" width="2" height="1.4" fill="#000" class="g"/>
<rect x="609.78" y="494" width="6.4" height="1.7" fill="#000" class="g"/>
<rect x="610.08" y="498" width="5.8" height="6.4" fill="#fff" stroke="#000" stroke-width="1" class="g"/>
<ellipse cx="622.25" cy="488.6" rx="2.7" ry="1.5" fill="#fff" stroke="#000" stroke-width="1.1" class="g"/>
<rect x="621.25" y="489.8" width="2" height="1.4" fill="#000" class="g"/>
<rect x="619.05" y="494" width="6.4" height="1.7" fill="#000" class="g"/>
<rect x="619.35" y="498" width="5.8" height="6.4" fill="#fff" stroke="#000" stroke-width="1" class="g"/>
<ellipse cx="631.52" cy="488.6" rx="2.7" ry="1.5" fill="#fff" stroke="#000" stroke-width="1.1" class="g"/>
<rect x="630.52" y="489.8" width="2" height="1.4" fill="#000" class="g"/>
<rect x="628.32" y="494" width="6.4" height="1.7" fill="#000" class="g"/>
<rect x="628.62" y="498" width="5.8" height="6.4" fill="#fff" stroke="#000" stroke-width="1" class="g"/>
<ellipse cx="640.79" cy="488.6" rx="2.7" ry="1.5" fill="#fff" stroke="#000" stroke-width="1.1" class="g"/>
<rect x="639.79" y="489.8" width="2" height="1.4" fill="#000" class="g"/>
<rect x="637.59" y="494" width="6.4" height="1.7" fill="#000" class="g"/>
<rect x="637.89" y="498" width="5.8" height="6.4" fill="#fff" stroke="#000" stroke-width="1" class="g"/>
<ellipse cx="650.06" cy="488.6" rx="2.7" ry="1.5" fill="#fff" stroke="#000" stroke-width="1.1" class="g"/>
<rect x="649.06" y="489.8" width="2" height="1.4" fill="#000" class="g"/>
<rect x="646.86" y="494" width="6.4" height="1.7" fill="#000" class="g"/>
<rect x="647.16" y="498" width="5.8" height="6.4" fill="#fff" stroke="#000" stroke-width="1" class="g"/>
<ellipse cx="659.33" cy="488.6" rx="2.7" ry="1.5" fill="#fff" stroke="#000" stroke-width="1.1" class="g"/>
<rect x="658.33" y="489.8" width="2" height="1.4" fill="#000" class="g"/>
<rect x="656.13" y="494" width="6.4" height="1.7" fill="#000" class="g"/>
<rect x="656.43" y="498" width="5.8" height="6.4" fill="#fff" stroke="#000" stroke-width="1" class="g"/>
<ellipse cx="668.6" cy="488.6" rx="2.7" ry="1.5" fill="#fff" stroke="#000" stroke-width="1.1" class="g"/>
<rect x="667.6" y="489.8" width="2" height="1.4" fill="#000" class="g"/>
<rect x="665.4" y="494" width="6.4" height="1.7" fill="#000" class="g"/>
<rect x="665.7" y="498" width="5.8" height="6.4" fill="#fff" stroke="#000" stroke-width="1" class="g"/>
<ellipse cx="677.87" cy="488.6" rx="2.7" ry="1.5" fill="#fff" stroke="#000" stroke-width="1.1" class="g"/>
<rect x="676.87" y="489.8" width="2" height="1.4" fill="#000" class="g"/>
<rect x="674.67" y="494" width="6.4" height="1.7" fill="#000" class="g"/>
<rect x="674.97" y="498" width="5.8" height="6.4" fill="#fff" stroke="#000" stroke-width="1" class="g"/>
<rect x="570" y="498" width="2" height="1.5" fill="#000" />
<rect x="570" y="502" width="2" height="1.5" fill="#000" />
<rect x="680" y="498" width="2" height="1.5" fill="#000" />
<rect x="680" y="502" width="2" height="1.5" fill="#000" />
<path d="M786,40.5 H800.5 Q802.5,40.5 802.5,42.5 V80.5 Q802.5,82.5 800.5,82.5 H786" fill="#fff" stroke="#000" stroke-width="1" class="g"/>
<rect x="752" y="40" width="34" height="45" fill="#000" />
<rect x="778.5" y="32.5" width="17" height="5" fill="#fff" stroke="#000" stroke-width="1"/>
<rect x="780" y="29" width="7" height="11" fill="#000" />
<rect x="778.5" y="86.5" width="17" height="5" fill="#fff" stroke="#000" stroke-width="1"/>
<rect x="780" y="85" width="7" height="11" fill="#000" />
<path d="M786.5,53.7 H791.3 Q794,53.7 794,56.4 V69.4 Q794,72.1 791.3,72.1 H786.5 Z" fill="#000" class="g"/>
<path d="M764.2,55.7 H790.8 Q792,55.7 792,56.9 V68.6 Q792,69.8 790.8,69.8 H764.2 Q763,69.8 763,68.6 V56.9 Q763,55.7 764.2,55.7 Z" fill="#fff" class="g"/>
<text transform="translate(777.9,67.56) scale(0.8,1)" font-size="14" letter-spacing="1.75" text-anchor="middle" fill="#000" stroke="#000" stroke-width="0.3" font-weight="normal" >C<tspan dx="1.125">N7</tspan></text>
<path d="M786,137.5 H797.5 Q799.5,137.5 799.5,139.5 V224.5 Q799.5,226.5 797.5,226.5 H786" fill="#fff" stroke="#000" stroke-width="1" class="g"/>
<rect x="755.3" y="137" width="30.7" height="92" fill="#000" />
<rect x="783.9" y="137" width="1.4" height="92" fill="#fff" class="g"/>
<rect x="775.5" y="129.5" width="18" height="5" fill="#fff" stroke="#000" stroke-width="1"/>
<rect x="780" y="127" width="7" height="10" fill="#000" />
<rect x="775.5" y="231.5" width="18" height="5" fill="#fff" stroke="#000" stroke-width="1"/>
<rect x="780" y="229" width="7" height="10" fill="#000" />
<path d="M786.5,173.4 H791.3 Q794,173.4 794,176.1 V189.6 Q794,192.3 791.3,192.3 H786.5 Z" fill="#000" class="g"/>
<path d="M764.2,175.4 H790.8 Q792,175.4 792,176.6 V188.8 Q792,190 790.8,190 H764.2 Q763,190 763,188.8 V176.6 Q763,175.4 764.2,175.4 Z" fill="#fff" class="g"/>
<text transform="translate(777.9,187.51) scale(0.8,1)" font-size="14" letter-spacing="1.75" text-anchor="middle" fill="#000" stroke="#000" stroke-width="0.3" font-weight="normal" >C<tspan dx="1.125">N6</tspan></text>
<path d="M786,260.5 H800.5 Q802.5,260.5 802.5,262.5 V300.5 Q802.5,302.5 800.5,302.5 H786" fill="#fff" stroke="#000" stroke-width="1" class="g"/>
<rect x="752" y="260" width="34" height="45" fill="#000" />
<rect x="778.5" y="253.5" width="17" height="4.5" fill="#fff" stroke="#000" stroke-width="1"/>
<rect x="780" y="250" width="7" height="10" fill="#000" />
<rect x="778.5" y="307.5" width="17" height="4.5" fill="#fff" stroke="#000" stroke-width="1"/>
<rect x="780" y="305" width="7" height="12" fill="#000" />
<path d="M786.5,273.8 H791.3 Q794,273.8 794,276.5 V289.5 Q794,292.2 791.3,292.2 H786.5 Z" fill="#000" class="g"/>
<path d="M764.2,275.8 H790.8 Q792,275.8 792,277 V288.7 Q792,289.9 790.8,289.9 H764.2 Q763,289.9 763,288.7 V277 Q763,275.8 764.2,275.8 Z" fill="#fff" class="g"/>
<text transform="translate(777.9,287.66) scale(0.8,1)" font-size="14" letter-spacing="1.75" text-anchor="middle" fill="#000" stroke="#000" stroke-width="0.3" font-weight="normal" >C<tspan dx="1.125">N4</tspan></text>
<path d="M786,333.5 H800.5 Q802.5,333.5 802.5,335.5 V373.0 Q802.5,375.0 800.5,375.0 H786" fill="#fff" stroke="#000" stroke-width="1" class="g"/>
<rect x="752" y="333" width="34" height="44.5" fill="#000" />
<rect x="778.5" y="326.5" width="17" height="4.5" fill="#fff" stroke="#000" stroke-width="1"/>
<rect x="780" y="322" width="7" height="11" fill="#000" />
<rect x="778.5" y="380" width="17" height="4.5" fill="#fff" stroke="#000" stroke-width="1"/>
<rect x="780" y="377.5" width="7" height="12.5" fill="#000" />
<path d="M786.5,346.8 H791.3 Q794,346.8 794,349.5 V362.5 Q794,365.2 791.3,365.2 H786.5 Z" fill="#000" class="g"/>
<path d="M764.2,348.8 H790.8 Q792,348.8 792,350 V361.7 Q792,362.9 790.8,362.9 H764.2 Q763,362.9 763,361.7 V350 Q763,348.8 764.2,348.8 Z" fill="#fff" class="g"/>
<text transform="translate(777.9,360.66) scale(0.8,1)" font-size="14" letter-spacing="1.75" text-anchor="middle" fill="#000" stroke="#000" stroke-width="0.3" font-weight="normal" >C<tspan dx="1.125">N5</tspan></text>
<rect x="746.5" y="410.5" width="39" height="39" fill="#fff" stroke="#000" stroke-width="1"/>
<rect x="778.5" y="410" width="7" height="40" fill="#000" />
<g transform="translate(0.8,0.8)" class="g"><path d="M754,421 H774.7 Q778.2,421 778.2,424.5 V433.2 Q778.2,436.7 774.7,436.7 H754 Q750.5,436.7 750.5,433.2 V424.5 Q750.5,421 754,421 Z" fill="#000" stroke="#000" stroke-width="2.0"/></g>
<path d="M754,421 H774.7 Q778.2,421 778.2,424.5 V433.2 Q778.2,436.7 774.7,436.7 H754 Q750.5,436.7 750.5,433.2 V424.5 Q750.5,421 754,421 Z" fill="#fff" stroke="#000" stroke-width="2.0" class="g"/>
<text transform="translate(764.25,433.96) scale(0.8,1)" font-size="14" letter-spacing="1.75" text-anchor="middle" fill="#000" stroke="#000" stroke-width="0.3" font-weight="normal" >C<tspan dx="1.125">N2</tspan></text>
<rect x="746.5" y="464.5" width="39" height="39" fill="#fff" stroke="#000" stroke-width="1"/>
<rect x="778.5" y="464" width="7" height="40" fill="#000" />
<g transform="translate(0.8,0.8)" class="g"><path d="M754,475 H774.7 Q778.2,475 778.2,478.5 V487.2 Q778.2,490.7 774.7,490.7 H754 Q750.5,490.7 750.5,487.2 V478.5 Q750.5,475 754,475 Z" fill="#000" stroke="#000" stroke-width="2.0"/></g>
<path d="M754,475 H774.7 Q778.2,475 778.2,478.5 V487.2 Q778.2,490.7 774.7,490.7 H754 Q750.5,490.7 750.5,487.2 V478.5 Q750.5,475 754,475 Z" fill="#fff" stroke="#000" stroke-width="2.0" class="g"/>
<text transform="translate(764.25,487.96) scale(0.8,1)" font-size="14" letter-spacing="1.75" text-anchor="middle" fill="#000" stroke="#000" stroke-width="0.3" font-weight="normal" >C<tspan dx="1.125">N3</tspan></text>
<rect x="23" y="177" width="7" height="19" fill="#000" />
<rect x="24" y="178.8" width="5" height="1.1" fill="#fff" class="g"/>
<rect x="24" y="183" width="5" height="1.1" fill="#fff" class="g"/>
<rect x="24" y="187.2" width="5" height="1.1" fill="#fff" class="g"/>
<rect x="24" y="191.6" width="5" height="1.1" fill="#fff" class="g"/>
<rect x="27.8" y="178.8" width="1.1" height="16.2" fill="#fff" class="g"/>
<g transform="translate(0.8,0.8)" class="g"><path d="M51.2,178 H86.5 Q88.7,178 88.7,180.2 V191.5 Q88.7,193.7 86.5,193.7 H51.2 Q49,193.7 49,191.5 V180.2 Q49,178 51.2,178 Z" fill="#000" stroke="#000" stroke-width="2.0"/><path d="M49,181.25 L43.5,184.65 L33,185.75 L43.5,187.05 L49,190.25 Z" fill="#000" stroke="#000" stroke-width="1.6" stroke-linejoin="miter"/></g>
<path d="M49,181.25 L43.5,184.65 L33,185.75 L43.5,187.05 L49,190.25 Z" fill="#fff" stroke="#000" stroke-width="1.6" class="g"/>
<path d="M51.2,178 H86.5 Q88.7,178 88.7,180.2 V191.5 Q88.7,193.7 86.5,193.7 H51.2 Q49,193.7 49,191.5 V180.2 Q49,178 51.2,178 Z" fill="#fff" stroke="#000" stroke-width="2.0" class="g"/>
<path d="M47.6,182.15 H50.4 V189.35 H47.6 Z" fill="#fff" class="g"/>
<text transform="translate(68.75,190.96) scale(0.8,1)" font-size="14" letter-spacing="1.75" text-anchor="middle" fill="#000" stroke="#000" stroke-width="0.3" font-weight="normal" >C<tspan dx="1.125">N17</tspan></text>
<rect x="23" y="207" width="7" height="14" fill="#000" />
<rect x="24" y="208.5" width="5" height="1.1" fill="#fff" class="g"/>
<rect x="24" y="213" width="5" height="1.1" fill="#fff" class="g"/>
<rect x="24" y="218.5" width="5" height="1.1" fill="#fff" class="g"/>
<g transform="translate(0.8,0.8)" class="g"><path d="M51.2,206 H86.5 Q88.7,206 88.7,208.2 V219.5 Q88.7,221.7 86.5,221.7 H51.2 Q49,221.7 49,219.5 V208.2 Q49,206 51.2,206 Z" fill="#000" stroke="#000" stroke-width="2.0"/><path d="M49,209.25 L43.5,212.65 L33,213.75 L43.5,215.05 L49,218.25 Z" fill="#000" stroke="#000" stroke-width="1.6" stroke-linejoin="miter"/></g>
<path d="M49,209.25 L43.5,212.65 L33,213.75 L43.5,215.05 L49,218.25 Z" fill="#fff" stroke="#000" stroke-width="1.6" class="g"/>
<path d="M51.2,206 H86.5 Q88.7,206 88.7,208.2 V219.5 Q88.7,221.7 86.5,221.7 H51.2 Q49,221.7 49,219.5 V208.2 Q49,206 51.2,206 Z" fill="#fff" stroke="#000" stroke-width="2.0" class="g"/>
<path d="M47.6,210.15 H50.4 V217.35 H47.6 Z" fill="#fff" class="g"/>
<text transform="translate(68.75,218.96) scale(0.8,1)" font-size="14" letter-spacing="1.75" text-anchor="middle" fill="#000" stroke="#000" stroke-width="0.3" font-weight="normal" >C<tspan dx="1.125">N16</tspan></text>
<rect x="23" y="233" width="7" height="14" fill="#000" />
<rect x="24" y="234.3" width="5" height="1.1" fill="#fff" class="g"/>
<rect x="24" y="239" width="5" height="1.1" fill="#fff" class="g"/>
<rect x="24" y="244" width="5" height="1.1" fill="#fff" class="g"/>
<g transform="translate(0.8,0.8)" class="g"><path d="M51.2,231 H86.5 Q88.7,231 88.7,233.2 V244.5 Q88.7,246.7 86.5,246.7 H51.2 Q49,246.7 49,244.5 V233.2 Q49,231 51.2,231 Z" fill="#000" stroke="#000" stroke-width="2.0"/><path d="M49,234.25 L43.5,237.65 L33,238.75 L43.5,240.05 L49,243.25 Z" fill="#000" stroke="#000" stroke-width="1.6" stroke-linejoin="miter"/></g>
<path d="M49,234.25 L43.5,237.65 L33,238.75 L43.5,240.05 L49,243.25 Z" fill="#fff" stroke="#000" stroke-width="1.6" class="g"/>
<path d="M51.2,231 H86.5 Q88.7,231 88.7,233.2 V244.5 Q88.7,246.7 86.5,246.7 H51.2 Q49,246.7 49,244.5 V233.2 Q49,231 51.2,231 Z" fill="#fff" stroke="#000" stroke-width="2.0" class="g"/>
<path d="M47.6,235.15 H50.4 V242.35 H47.6 Z" fill="#fff" class="g"/>
<text transform="translate(68.75,243.96) scale(0.8,1)" font-size="14" letter-spacing="1.75" text-anchor="middle" fill="#000" stroke="#000" stroke-width="0.3" font-weight="normal" >C<tspan dx="1.125">N15</tspan></text>
<rect x="23" y="259.5" width="7" height="13.5" fill="#000" />
<rect x="24" y="264.8" width="5" height="1.1" fill="#fff" class="g"/>
<rect x="24" y="270.3" width="5" height="1.1" fill="#fff" class="g"/>
<g transform="translate(0.8,0.8)" class="g"><path d="M51.2,258.5 H86.5 Q88.7,258.5 88.7,260.7 V271.5 Q88.7,273.7 86.5,273.7 H51.2 Q49,273.7 49,271.5 V260.7 Q49,258.5 51.2,258.5 Z" fill="#000" stroke="#000" stroke-width="2.0"/><path d="M49,261.5 L43.5,264.9 L33,266 L43.5,267.3 L49,270.5 Z" fill="#000" stroke="#000" stroke-width="1.6" stroke-linejoin="miter"/></g>
<path d="M49,261.5 L43.5,264.9 L33,266 L43.5,267.3 L49,270.5 Z" fill="#fff" stroke="#000" stroke-width="1.6" class="g"/>
<path d="M51.2,258.5 H86.5 Q88.7,258.5 88.7,260.7 V271.5 Q88.7,273.7 86.5,273.7 H51.2 Q49,273.7 49,271.5 V260.7 Q49,258.5 51.2,258.5 Z" fill="#fff" stroke="#000" stroke-width="2.0" class="g"/>
<path d="M47.6,262.4 H50.4 V269.6 H47.6 Z" fill="#fff" class="g"/>
<text transform="translate(68.75,271.21) scale(0.8,1)" font-size="14" letter-spacing="1.75" text-anchor="middle" fill="#000" stroke="#000" stroke-width="0.3" font-weight="normal" >C<tspan dx="1.125">N14</tspan></text>
<rect x="23" y="285" width="7" height="13.5" fill="#000" />
<rect x="24" y="286.3" width="5" height="1.1" fill="#fff" class="g"/>
<rect x="24" y="291" width="5" height="1.1" fill="#fff" class="g"/>
<rect x="24" y="296" width="5" height="1.1" fill="#fff" class="g"/>
<g transform="translate(0.8,0.8)" class="g"><path d="M51.2,283.5 H86.5 Q88.7,283.5 88.7,285.7 V296.5 Q88.7,298.7 86.5,298.7 H51.2 Q49,298.7 49,296.5 V285.7 Q49,283.5 51.2,283.5 Z" fill="#000" stroke="#000" stroke-width="2.0"/><path d="M49,286.5 L43.5,289.9 L33,291 L43.5,292.3 L49,295.5 Z" fill="#000" stroke="#000" stroke-width="1.6" stroke-linejoin="miter"/></g>
<path d="M49,286.5 L43.5,289.9 L33,291 L43.5,292.3 L49,295.5 Z" fill="#fff" stroke="#000" stroke-width="1.6" class="g"/>
<path d="M51.2,283.5 H86.5 Q88.7,283.5 88.7,285.7 V296.5 Q88.7,298.7 86.5,298.7 H51.2 Q49,298.7 49,296.5 V285.7 Q49,283.5 51.2,283.5 Z" fill="#fff" stroke="#000" stroke-width="2.0" class="g"/>
<path d="M47.6,287.4 H50.4 V294.6 H47.6 Z" fill="#fff" class="g"/>
<text transform="translate(68.75,296.21) scale(0.8,1)" font-size="14" letter-spacing="1.75" text-anchor="middle" fill="#000" stroke="#000" stroke-width="0.3" font-weight="normal" >C<tspan dx="1.125">N13</tspan></text>
<rect x="23" y="317" width="7" height="26" fill="#000" />
<rect x="24" y="318" width="5" height="1.1" fill="#fff" class="g"/>
<rect x="24" y="323.5" width="5" height="1.1" fill="#fff" class="g"/>
<rect x="24" y="328.9" width="5" height="1.1" fill="#fff" class="g"/>
<rect x="24" y="334.8" width="5" height="1.1" fill="#fff" class="g"/>
<rect x="24" y="340.6" width="5" height="1.1" fill="#fff" class="g"/>
<g transform="translate(0.8,0.8)" class="g"><path d="M51.2,321.5 H86.5 Q88.7,321.5 88.7,323.7 V335 Q88.7,337.2 86.5,337.2 H51.2 Q49,337.2 49,335 V323.7 Q49,321.5 51.2,321.5 Z" fill="#000" stroke="#000" stroke-width="2.0"/><path d="M49,324.75 L43.5,328.15 L33,329.25 L43.5,330.55 L49,333.75 Z" fill="#000" stroke="#000" stroke-width="1.6" stroke-linejoin="miter"/></g>
<path d="M49,324.75 L43.5,328.15 L33,329.25 L43.5,330.55 L49,333.75 Z" fill="#fff" stroke="#000" stroke-width="1.6" class="g"/>
<path d="M51.2,321.5 H86.5 Q88.7,321.5 88.7,323.7 V335 Q88.7,337.2 86.5,337.2 H51.2 Q49,337.2 49,335 V323.7 Q49,321.5 51.2,321.5 Z" fill="#fff" stroke="#000" stroke-width="2.0" class="g"/>
<path d="M47.6,325.65 H50.4 V332.85 H47.6 Z" fill="#fff" class="g"/>
<text transform="translate(68.75,334.46) scale(0.8,1)" font-size="14" letter-spacing="1.75" text-anchor="middle" fill="#000" stroke="#000" stroke-width="0.3" font-weight="normal" >C<tspan dx="1.125">N12</tspan></text>
<rect x="23" y="360" width="7" height="14" fill="#000" />
<rect x="24" y="361.1" width="5" height="1.1" fill="#fff" class="g"/>
<rect x="24" y="366.1" width="5" height="1.1" fill="#fff" class="g"/>
<rect x="24" y="371.9" width="5" height="1.1" fill="#fff" class="g"/>
<g transform="translate(0.8,0.8)" class="g"><path d="M51.2,359 H86.5 Q88.7,359 88.7,361.2 V371.7 Q88.7,373.9 86.5,373.9 H51.2 Q49,373.9 49,371.7 V361.2 Q49,359 51.2,359 Z" fill="#000" stroke="#000" stroke-width="2.0"/><path d="M49,361.85 L43.5,365.25 L33,366.35 L43.5,367.65 L49,370.85 Z" fill="#000" stroke="#000" stroke-width="1.6" stroke-linejoin="miter"/></g>
<path d="M49,361.85 L43.5,365.25 L33,366.35 L43.5,367.65 L49,370.85 Z" fill="#fff" stroke="#000" stroke-width="1.6" class="g"/>
<path d="M51.2,359 H86.5 Q88.7,359 88.7,361.2 V371.7 Q88.7,373.9 86.5,373.9 H51.2 Q49,373.9 49,371.7 V361.2 Q49,359 51.2,359 Z" fill="#fff" stroke="#000" stroke-width="2.0" class="g"/>
<path d="M47.6,362.75 H50.4 V369.95 H47.6 Z" fill="#fff" class="g"/>
<text transform="translate(68.75,371.56) scale(0.8,1)" font-size="14" letter-spacing="1.75" text-anchor="middle" fill="#000" stroke="#000" stroke-width="0.3" font-weight="normal" >C<tspan dx="1.125">N11</tspan></text>
<rect x="128" y="360" width="19" height="7" fill="#000" />
<rect x="129" y="361" width="1.2" height="5" fill="#fff" class="g"/>
<rect x="134" y="361" width="2.2" height="5" fill="#fff" class="g"/>
<rect x="140" y="361" width="1.3" height="5" fill="#fff" class="g"/>
<g transform="translate(0.8,0.8)" class="g"><path d="M124.2,325.2 H151 Q153.2,325.2 153.2,327.4 V338.2 Q153.2,340.4 151,340.4 H124.2 Q122,340.4 122,338.2 V327.4 Q122,325.2 124.2,325.2 Z" fill="#000" stroke="#000" stroke-width="2.0"/><path d="M134.3,340.4 L136.9,358.6 L139.7,340.4 Z" fill="#000" stroke="#000" stroke-width="1.6" stroke-linejoin="miter"/></g>
<path d="M134.3,340.4 L136.9,358.6 L139.7,340.4 Z" fill="#fff" stroke="#000" stroke-width="1.6" class="g"/>
<path d="M124.2,325.2 H151 Q153.2,325.2 153.2,327.4 V338.2 Q153.2,340.4 151,340.4 H124.2 Q122,340.4 122,338.2 V327.4 Q122,325.2 124.2,325.2 Z" fill="#fff" stroke="#000" stroke-width="2.0" class="g"/>
<path d="M135.107,339.2 L138.907,339.2 L138.895,341.4 L135.095,341.4 Z" fill="#fff" class="g"/>
<text transform="translate(137.5,337.11) scale(0.8,1)" font-size="14" letter-spacing="2" text-anchor="middle" fill="#000" stroke="#000" stroke-width="0.3" font-weight="normal" >J23</text>
<rect x="195" y="318" width="6.7" height="14" fill="#000" />
<rect x="196" y="319.1" width="4.7" height="1.1" fill="#fff" class="g"/>
<rect x="196" y="324" width="4.7" height="1.1" fill="#fff" class="g"/>
<rect x="196" y="329.8" width="4.7" height="1.1" fill="#fff" class="g"/>
<rect x="204" y="318" width="6.7" height="14" fill="#000" />
<rect x="205" y="319.1" width="4.7" height="1.1" fill="#fff" class="g"/>
<rect x="205" y="324" width="4.7" height="1.1" fill="#fff" class="g"/>
<rect x="205" y="329.8" width="4.7" height="1.1" fill="#fff" class="g"/>
<rect x="208.5" y="319.1" width="1.1" height="11.9" fill="#fff" class="g"/>
<rect x="213" y="318" width="6.7" height="14" fill="#000" />
<rect x="214" y="319.1" width="4.7" height="1.1" fill="#fff" class="g"/>
<rect x="214" y="324" width="4.7" height="1.1" fill="#fff" class="g"/>
<rect x="214" y="329.8" width="4.7" height="1.1" fill="#fff" class="g"/>
<rect x="222" y="318" width="6.7" height="14" fill="#000" />
<rect x="223" y="319.1" width="4.7" height="1.1" fill="#fff" class="g"/>
<rect x="223" y="324" width="4.7" height="1.1" fill="#fff" class="g"/>
<rect x="223" y="329.8" width="4.7" height="1.1" fill="#fff" class="g"/>
<g transform="translate(0.8,0.8)" class="g"><path d="M162.2,293 H188 Q190.2,293 190.2,295.2 V304.5 Q190.2,306.7 188,306.7 H162.2 Q160,306.7 160,304.5 V295.2 Q160,293 162.2,293 Z" fill="#000" stroke="#000" stroke-width="2.0"/><path d="M186.5,307 L197.5,316 L190.5,303 Z" fill="#000" stroke="#000" stroke-width="1.6" stroke-linejoin="miter"/></g>
<path d="M186.5,307 L197.5,316 L190.5,303 Z" fill="#fff" stroke="#000" stroke-width="1.6" class="g"/>
<path d="M162.2,293 H188 Q190.2,293 190.2,295.2 V304.5 Q190.2,306.7 188,306.7 H162.2 Q160,306.7 160,304.5 V295.2 Q160,293 162.2,293 Z" fill="#fff" stroke="#000" stroke-width="2.0" class="g"/>
<path d="M186.306,305.506 L189.174,302.637 L190.568,304.34 L187.699,307.208 Z" fill="#fff" class="g"/>
<text transform="translate(175,304.96) scale(0.8,1)" font-size="14" letter-spacing="2" text-anchor="middle" fill="#000" stroke="#000" stroke-width="0.3" font-weight="normal" >J22</text>
<g transform="translate(0.8,0.8)" class="g"><path d="M236.7,292.5 H263 Q265.2,292.5 265.2,294.7 V306 Q265.2,308.2 263,308.2 H236.7 Q234.5,308.2 234.5,306 V294.7 Q234.5,292.5 236.7,292.5 Z" fill="#000" stroke="#000" stroke-width="2.0"/><path d="M234.3,305 L226,316.5 L238.5,308.7 Z" fill="#000" stroke="#000" stroke-width="1.6" stroke-linejoin="miter"/></g>
<path d="M234.3,305 L226,316.5 L238.5,308.7 Z" fill="#fff" stroke="#000" stroke-width="1.6" class="g"/>
<path d="M236.7,292.5 H263 Q265.2,292.5 265.2,294.7 V306 Q265.2,308.2 263,308.2 H236.7 Q234.5,308.2 234.5,306 V294.7 Q234.5,292.5 236.7,292.5 Z" fill="#fff" stroke="#000" stroke-width="2.0" class="g"/>
<path d="M235.78,304.713 L238.779,307.355 L237.167,308.851 L234.167,306.209 Z" fill="#fff" class="g"/>
<text transform="translate(249.75,305.46) scale(0.8,1)" font-size="14" letter-spacing="2" text-anchor="middle" fill="#000" stroke="#000" stroke-width="0.3" font-weight="normal" >J19</text>
<g transform="translate(0.8,0.8)" class="g"><path d="M170.7,341.5 H198 Q200.2,341.5 200.2,343.7 V354.5 Q200.2,356.7 198,356.7 H170.7 Q168.5,356.7 168.5,354.5 V343.7 Q168.5,341.5 170.7,341.5 Z" fill="#000" stroke="#000" stroke-width="2.0"/><path d="M197,341.3 L208,333 L200.7,345 Z" fill="#000" stroke="#000" stroke-width="1.6" stroke-linejoin="miter"/></g>
<path d="M197,341.3 L208,333 L200.7,345 Z" fill="#fff" stroke="#000" stroke-width="1.6" class="g"/>
<path d="M170.7,341.5 H198 Q200.2,341.5 200.2,343.7 V354.5 Q200.2,356.7 198,356.7 H170.7 Q168.5,356.7 168.5,354.5 V343.7 Q168.5,341.5 170.7,341.5 Z" fill="#fff" stroke="#000" stroke-width="2.0" class="g"/>
<path d="M196.762,342.757 L199.331,345.326 L200.804,343.692 L198.235,341.123 Z" fill="#fff" class="g"/>
<text transform="translate(184.25,354.21) scale(0.8,1)" font-size="14" letter-spacing="2" text-anchor="middle" fill="#000" stroke="#000" stroke-width="0.3" font-weight="normal" >J21</text>
<g transform="translate(0.8,0.8)" class="g"><path d="M223.7,341.5 H250 Q252.2,341.5 252.2,343.7 V354.5 Q252.2,356.7 250,356.7 H223.7 Q221.5,356.7 221.5,354.5 V343.7 Q221.5,341.5 223.7,341.5 Z" fill="#000" stroke="#000" stroke-width="2.0"/><path d="M221.3,345.5 L213.5,333 L225.5,341.3 Z" fill="#000" stroke="#000" stroke-width="1.6" stroke-linejoin="miter"/></g>
<path d="M221.3,345.5 L213.5,333 L225.5,341.3 Z" fill="#fff" stroke="#000" stroke-width="1.6" class="g"/>
<path d="M223.7,341.5 H250 Q252.2,341.5 252.2,343.7 V354.5 Q252.2,356.7 250,356.7 H223.7 Q221.5,356.7 221.5,354.5 V343.7 Q221.5,341.5 223.7,341.5 Z" fill="#fff" stroke="#000" stroke-width="2.0" class="g"/>
<path d="M222.693,345.803 L225.762,342.735 L224.245,341.141 L221.176,344.21 Z" fill="#fff" class="g"/>
<text transform="translate(236.75,354.21) scale(0.8,1)" font-size="14" letter-spacing="2" text-anchor="middle" fill="#000" stroke="#000" stroke-width="0.3" font-weight="normal" >J20</text>
<rect x="254" y="358" width="19" height="7" fill="#000" />
<rect x="255" y="359" width="17" height="1" fill="#fff" class="g"/>
<rect x="255" y="359" width="1" height="5.2" fill="#fff" class="g"/>
<rect x="260" y="359" width="1.4" height="5.2" fill="#fff" class="g"/>
<rect x="266.2" y="359" width="1.6" height="5.2" fill="#fff" class="g"/>
<g transform="translate(0.8,0.8)" class="g"><path d="M285.2,370.5 H312 Q314.2,370.5 314.2,372.7 V383.5 Q314.2,385.7 312,385.7 H285.2 Q283,385.7 283,383.5 V372.7 Q283,370.5 285.2,370.5 Z" fill="#000" stroke="#000" stroke-width="2.0"/><path d="M282.8,374.5 L275.3,363.3 L287,370.3 Z" fill="#000" stroke="#000" stroke-width="1.6" stroke-linejoin="miter"/></g>
<path d="M282.8,374.5 L275.3,363.3 L287,370.3 Z" fill="#fff" stroke="#000" stroke-width="1.6" class="g"/>
<path d="M285.2,370.5 H312 Q314.2,370.5 314.2,372.7 V383.5 Q314.2,385.7 312,385.7 H285.2 Q283,385.7 283,383.5 V372.7 Q283,370.5 285.2,370.5 Z" fill="#fff" stroke="#000" stroke-width="2.0" class="g"/>
<path d="M284.237,374.76 L287.305,371.691 L285.709,370.178 L282.64,373.246 Z" fill="#fff" class="g"/>
<text transform="translate(298.5,383.21) scale(0.8,1)" font-size="14" letter-spacing="2" text-anchor="middle" fill="#000" stroke="#000" stroke-width="0.3" font-weight="normal" >J18</text>
<rect x="364" y="178" width="6.8" height="18.7" fill="#000" />
<rect x="365" y="178.9" width="4.8" height="1.1" fill="#fff" class="g"/>
<rect x="365" y="183.9" width="4.8" height="1.1" fill="#fff" class="g"/>
<rect x="365" y="189.2" width="4.8" height="1.1" fill="#fff" class="g"/>
<rect x="374" y="178" width="6.8" height="18.7" fill="#000" />
<rect x="375" y="178.9" width="4.8" height="1.1" fill="#fff" class="g"/>
<rect x="375" y="183.9" width="4.8" height="1.1" fill="#fff" class="g"/>
<rect x="375" y="189.2" width="4.8" height="1.1" fill="#fff" class="g"/>
<rect x="378.6" y="178.9" width="1.1" height="16.8" fill="#fff" class="g"/>
<rect x="384" y="178" width="6.8" height="18.7" fill="#000" />
<rect x="385" y="178.9" width="4.8" height="1.1" fill="#fff" class="g"/>
<rect x="385" y="183.9" width="4.8" height="1.1" fill="#fff" class="g"/>
<rect x="385" y="189.2" width="4.8" height="1.1" fill="#fff" class="g"/>
<g transform="translate(0.8,0.8)" class="g"><path d="M314.55,179.15 H343.85 Q346.05,179.15 346.05,181.35 V193.15 Q346.05,195.35 343.85,195.35 H314.55 Q312.35,195.35 312.35,193.15 V181.35 Q312.35,179.15 314.55,179.15 Z" fill="#000" stroke="#000" stroke-width="2.3"/><path d="M346.05,183.5 L351.55,186.4 L362.5,187.5 L351.55,188.8 L346.05,191.5 Z" fill="#000" stroke="#000" stroke-width="1.84" stroke-linejoin="miter"/></g>
<path d="M346.05,183.5 L351.55,186.4 L362.5,187.5 L351.55,188.8 L346.05,191.5 Z" fill="#fff" stroke="#000" stroke-width="1.84" class="g"/>
<path d="M314.55,179.15 H343.85 Q346.05,179.15 346.05,181.35 V193.15 Q346.05,195.35 343.85,195.35 H314.55 Q312.35,195.35 312.35,193.15 V181.35 Q312.35,179.15 314.55,179.15 Z" fill="#fff" stroke="#000" stroke-width="2.3" class="g"/>
<path d="M344.65,184.4 H347.45 V190.6 H344.65 Z" fill="#fff" class="g"/>
<text transform="translate(329.1,192.36) scale(0.8,1)" font-size="14" letter-spacing="2" text-anchor="middle" fill="#000" stroke="#000" stroke-width="0.3" font-weight="normal" >J12</text>
<g transform="translate(0.8,0.8)" class="g"><path d="M410.35,179.15 H438.85 Q441.05,179.15 441.05,181.35 V192.85 Q441.05,195.05 438.85,195.05 H410.35 Q408.15,195.05 408.15,192.85 V181.35 Q408.15,179.15 410.35,179.15 Z" fill="#000" stroke="#000" stroke-width="2.3"/><path d="M408.15,183.5 L402.65,186.4 L392,187.5 L402.65,188.8 L408.15,191.5 Z" fill="#000" stroke="#000" stroke-width="1.84" stroke-linejoin="miter"/></g>
<path d="M408.15,183.5 L402.65,186.4 L392,187.5 L402.65,188.8 L408.15,191.5 Z" fill="#fff" stroke="#000" stroke-width="1.84" class="g"/>
<path d="M410.35,179.15 H438.85 Q441.05,179.15 441.05,181.35 V192.85 Q441.05,195.05 438.85,195.05 H410.35 Q408.15,195.05 408.15,192.85 V181.35 Q408.15,179.15 410.35,179.15 Z" fill="#fff" stroke="#000" stroke-width="2.3" class="g"/>
<path d="M406.75,184.4 H409.55 V190.6 H406.75 Z" fill="#fff" class="g"/>
<text transform="translate(424.5,192.21) scale(0.8,1)" font-size="14" letter-spacing="2" text-anchor="middle" fill="#000" stroke="#000" stroke-width="0.3" font-weight="normal" >J10</text>
<path d="M375.4,217 L377,197 H378.3 L379.8,217 Z" fill="#fff" stroke="#000" stroke-width="1.5" class="g"/>
<path d="M363.5,216.5 H389.5 Q391,216.5 391,218 V228.5 Q391,230 389.5,230 H363.5 Q362,230 362,228.5 V218 Q362,216.5 363.5,216.5 Z" fill="#fff" class="g"/>
<text transform="translate(377.3,228.36) scale(0.8,1)" font-size="14" letter-spacing="2" text-anchor="middle" fill="#000" stroke="#000" stroke-width="0.3" font-weight="normal" >J11</text>
<path d="M364.5,250.5 H391 Q392,250.5 392,251.5 V263 Q392,264 391,264 H364.5 Q363.5,264 363.5,263 V251.5 Q363.5,250.5 364.5,250.5 Z" fill="#fff" class="g"/>
<text transform="translate(378.55,262.36) scale(0.8,1)" font-size="14" letter-spacing="1.75" text-anchor="middle" fill="#000" stroke="#000" stroke-width="0.3" font-weight="normal" >C<tspan dx="1.125">PU</tspan></text>
<rect x="319" y="481.5" width="7" height="19" fill="#000" />
<rect x="320" y="488" width="5" height="1.1" fill="#fff" class="g"/>
<rect x="320" y="494.5" width="5" height="1.1" fill="#fff" class="g"/>
<rect x="320" y="499" width="5" height="1.1" fill="#fff" class="g"/>
<rect x="331" y="481.5" width="7" height="19" fill="#000" />
<rect x="332" y="488" width="5" height="1.1" fill="#fff" class="g"/>
<rect x="332" y="494.5" width="5" height="1.1" fill="#fff" class="g"/>
<rect x="332" y="499" width="5" height="1.1" fill="#fff" class="g"/>
<rect x="335.8" y="488" width="1.1" height="11.5" fill="#fff" class="g"/>
<rect x="342" y="481.5" width="7" height="19" fill="#000" />
<rect x="343" y="488" width="5" height="1.1" fill="#fff" class="g"/>
<rect x="343" y="494.5" width="5" height="1.1" fill="#fff" class="g"/>
<rect x="343" y="499" width="5" height="1.1" fill="#fff" class="g"/>
<g transform="translate(0.8,0.8)" class="g"><path d="M310.7,453.5 H335.5 Q337.7,453.5 337.7,455.7 V465.5 Q337.7,467.7 335.5,467.7 H310.7 Q308.5,467.7 308.5,465.5 V455.7 Q308.5,453.5 310.7,453.5 Z" fill="#000" stroke="#000" stroke-width="2.0"/><path d="M320,468 L322.7,480.5 L325.5,468 Z" fill="#000" stroke="#000" stroke-width="1.6" stroke-linejoin="miter"/></g>
<path d="M320,468 L322.7,480.5 L325.5,468 Z" fill="#fff" stroke="#000" stroke-width="1.6" class="g"/>
<path d="M310.7,453.5 H335.5 Q337.7,453.5 337.7,455.7 V465.5 Q337.7,467.7 335.5,467.7 H310.7 Q308.5,467.7 308.5,465.5 V455.7 Q308.5,453.5 310.7,453.5 Z" fill="#fff" stroke="#000" stroke-width="2.0" class="g"/>
<path d="M320.805,466.8 L324.705,466.8 L324.696,469 L320.796,469 Z" fill="#fff" class="g"/>
<text transform="translate(323,465.71) scale(0.8,1)" font-size="14" letter-spacing="2" text-anchor="middle" fill="#000" stroke="#000" stroke-width="0.3" font-weight="normal" >J15</text>
<g transform="translate(0.8,0.8)" class="g"><path d="M346.5,453.3 H373.8 Q376,453.3 376,455.5 V467 Q376,469.2 373.8,469.2 H346.5 Q344.3,469.2 344.3,467 V455.5 Q344.3,453.3 346.5,453.3 Z" fill="#000" stroke="#000" stroke-width="2.0"/><path d="M344.3,464.5 L334.2,480.5 L348.5,469.5 Z" fill="#000" stroke="#000" stroke-width="1.6" stroke-linejoin="miter"/></g>
<path d="M344.3,464.5 L334.2,480.5 L348.5,469.5 Z" fill="#fff" stroke="#000" stroke-width="1.6" class="g"/>
<path d="M346.5,453.3 H373.8 Q376,453.3 376,455.5 V467 Q376,469.2 373.8,469.2 H346.5 Q344.3,469.2 344.3,467 V455.5 Q344.3,453.3 346.5,453.3 Z" fill="#fff" stroke="#000" stroke-width="2.0" class="g"/>
<path d="M345.619,464.222 L348.79,467.997 L347.315,469.629 L344.144,465.854 Z" fill="#fff" class="g"/>
<text transform="translate(360.05,466.36) scale(0.8,1)" font-size="14" letter-spacing="2" text-anchor="middle" fill="#000" stroke="#000" stroke-width="0.3" font-weight="normal" >J14</text>
<g transform="translate(0.8,0.8)" class="g"><path d="M369.2,483.5 H398 Q400.2,483.5 400.2,485.7 V496.5 Q400.2,498.7 398,498.7 H369.2 Q367,498.7 367,496.5 V485.7 Q367,483.5 369.2,483.5 Z" fill="#000" stroke="#000" stroke-width="2.0"/><path d="M367,486.5 L361.5,489.9 L351,491 L361.5,492.3 L367,495.5 Z" fill="#000" stroke="#000" stroke-width="1.6" stroke-linejoin="miter"/></g>
<path d="M367,486.5 L361.5,489.9 L351,491 L361.5,492.3 L367,495.5 Z" fill="#fff" stroke="#000" stroke-width="1.6" class="g"/>
<path d="M369.2,483.5 H398 Q400.2,483.5 400.2,485.7 V496.5 Q400.2,498.7 398,498.7 H369.2 Q367,498.7 367,496.5 V485.7 Q367,483.5 369.2,483.5 Z" fill="#fff" stroke="#000" stroke-width="2.0" class="g"/>
<path d="M365.6,487.4 H368.4 V494.6 H365.6 Z" fill="#fff" class="g"/>
<text transform="translate(383.5,496.21) scale(0.8,1)" font-size="14" letter-spacing="2" text-anchor="middle" fill="#000" stroke="#000" stroke-width="0.3" font-weight="normal" >J13</text>
<g transform="translate(0.8,0.8)" class="g"><path d="M328.4,433 H357 Q359.2,433 359.2,435.2 V446.8 Q359.2,449 357,449 H328.4 Q326.2,449 326.2,446.8 V435.2 Q326.2,433 328.4,433 Z" fill="#000" stroke="#000" stroke-width="2.0"/><path d="M326.2,436.5 L320.7,439.9 L309.5,441 L320.7,442.3 L326.2,445.5 Z" fill="#000" stroke="#000" stroke-width="1.6" stroke-linejoin="miter"/></g>
<path d="M326.2,436.5 L320.7,439.9 L309.5,441 L320.7,442.3 L326.2,445.5 Z" fill="#fff" stroke="#000" stroke-width="1.6" class="g"/>
<path d="M328.4,433 H357 Q359.2,433 359.2,435.2 V446.8 Q359.2,449 357,449 H328.4 Q326.2,449 326.2,446.8 V435.2 Q326.2,433 328.4,433 Z" fill="#fff" stroke="#000" stroke-width="2.0" class="g"/>
<path d="M324.8,437.4 H327.6 V444.6 H324.8 Z" fill="#fff" class="g"/>
<text transform="translate(342.6,446.11) scale(0.8,1)" font-size="14" letter-spacing="1.75" text-anchor="middle" fill="#000" stroke="#000" stroke-width="0.3" font-weight="normal" >C<tspan dx="1.125">N9</tspan></text>
<g transform="translate(0.8,0.8)" class="g"><path d="M210.7,433 H243.8 Q246,433 246,435.2 V447 Q246,449.2 243.8,449.2 H210.7 Q208.5,449.2 208.5,447 V435.2 Q208.5,433 210.7,433 Z" fill="#000" stroke="#000" stroke-width="2.0"/><path d="M246,437.4 L251.5,439.9 L262,441 L251.5,442.3 L246,444.6 Z" fill="#000" stroke="#000" stroke-width="1.6" stroke-linejoin="miter"/></g>
<path d="M246,437.4 L251.5,439.9 L262,441 L251.5,442.3 L246,444.6 Z" fill="#fff" stroke="#000" stroke-width="1.6" class="g"/>
<path d="M210.7,433 H243.8 Q246,433 246,435.2 V447 Q246,449.2 243.8,449.2 H210.7 Q208.5,449.2 208.5,447 V435.2 Q208.5,433 210.7,433 Z" fill="#fff" stroke="#000" stroke-width="2.0" class="g"/>
<path d="M244.6,438.3 H247.4 V443.7 H244.6 Z" fill="#fff" class="g"/>
<text transform="translate(226.85,446.21) scale(0.8,1)" font-size="14" letter-spacing="1" text-anchor="middle" fill="#000" stroke="#000" stroke-width="0.3" font-weight="normal" >C<tspan dx="1.125">N10</tspan></text>
<g transform="translate(0.8,0.8)" class="g"><path d="M146.2,440.5 H171.5 Q173.7,440.5 173.7,442.7 V453.5 Q173.7,455.7 171.5,455.7 H146.2 Q144,455.7 144,453.5 V442.7 Q144,440.5 146.2,440.5 Z" fill="#000" stroke="#000" stroke-width="2.0"/></g>
<path d="M146.2,440.5 H171.5 Q173.7,440.5 173.7,442.7 V453.5 Q173.7,455.7 171.5,455.7 H146.2 Q144,455.7 144,453.5 V442.7 Q144,440.5 146.2,440.5 Z" fill="#fff" stroke="#000" stroke-width="2.0" class="g"/>
<text transform="translate(158.75,453.21) scale(0.8,1)" font-size="14" letter-spacing="1.75" text-anchor="middle" fill="#000" stroke="#000" stroke-width="0.3" font-weight="normal" >C<tspan dx="1.125">PU</tspan></text>
<rect x="692" y="310.3" width="14" height="6.5" fill="#000" />
<rect x="693" y="311.3" width="12" height="1.1" fill="#fff" class="g"/>
<rect x="699" y="311.8" width="1.1" height="4" fill="#fff" class="g"/>
<rect x="703.7" y="311.3" width="1.1" height="4.5" fill="#fff" class="g"/>
<g transform="translate(0.8,0.8)" class="g"><path d="M654.2,307 H672 Q674.2,307 674.2,309.2 V319 Q674.2,321.2 672,321.2 H654.2 Q652,321.2 652,319 V309.2 Q652,307 654.2,307 Z" fill="#000" stroke="#000" stroke-width="2.0"/><path d="M674.2,309.5 L679.7,312.4 L691.5,313.5 L679.7,314.8 L674.2,317.5 Z" fill="#000" stroke="#000" stroke-width="1.6" stroke-linejoin="miter"/></g>
<path d="M674.2,309.5 L679.7,312.4 L691.5,313.5 L679.7,314.8 L674.2,317.5 Z" fill="#fff" stroke="#000" stroke-width="1.6" class="g"/>
<path d="M654.2,307 H672 Q674.2,307 674.2,309.2 V319 Q674.2,321.2 672,321.2 H654.2 Q652,321.2 652,319 V309.2 Q652,307 654.2,307 Z" fill="#fff" stroke="#000" stroke-width="2.0" class="g"/>
<path d="M672.8,310.4 H675.6 V316.6 H672.8 Z" fill="#fff" class="g"/>
<text transform="translate(663,319.21) scale(0.8,1)" font-size="14" letter-spacing="2" text-anchor="middle" fill="#000" stroke="#000" stroke-width="0.3" font-weight="normal" >J5</text>
<rect x="648" y="174" width="6.8" height="18.7" fill="#000" />
<rect x="649" y="175.3" width="4.8" height="1.1" fill="#fff" class="g"/>
<rect x="649" y="180.2" width="4.8" height="1.1" fill="#fff" class="g"/>
<rect x="649" y="185.8" width="4.8" height="1.1" fill="#fff" class="g"/>
<g transform="translate(0.8,0.8)" class="g"><path d="M608.2,175.5 H628 Q630.2,175.5 630.2,177.7 V188.5 Q630.2,190.7 628,190.7 H608.2 Q606,190.7 606,188.5 V177.7 Q606,175.5 608.2,175.5 Z" fill="#000" stroke="#000" stroke-width="2.0"/><path d="M630.2,179 L635.7,182.4 L646,183.5 L635.7,184.8 L630.2,188 Z" fill="#000" stroke="#000" stroke-width="1.6" stroke-linejoin="miter"/></g>
<path d="M630.2,179 L635.7,182.4 L646,183.5 L635.7,184.8 L630.2,188 Z" fill="#fff" stroke="#000" stroke-width="1.6" class="g"/>
<path d="M608.2,175.5 H628 Q630.2,175.5 630.2,177.7 V188.5 Q630.2,190.7 628,190.7 H608.2 Q606,190.7 606,188.5 V177.7 Q606,175.5 608.2,175.5 Z" fill="#fff" stroke="#000" stroke-width="2.0" class="g"/>
<path d="M628.8,179.9 H631.6 V187.1 H628.8 Z" fill="#fff" class="g"/>
<text transform="translate(618,188.21) scale(0.8,1)" font-size="14" letter-spacing="2" text-anchor="middle" fill="#000" stroke="#000" stroke-width="0.3" font-weight="normal" >J6</text>
<rect x="697" y="162" width="19" height="7" fill="#000" />
<rect x="698" y="166.5" width="16.6" height="0.9" fill="#fff" class="g"/>
<rect x="703" y="163" width="0.8" height="4" fill="#fff" class="g"/>
<rect x="708.2" y="163" width="0.8" height="4" fill="#fff" class="g"/>
<rect x="713.7" y="163" width="0.9" height="4.4" fill="#fff" class="g"/>
<rect x="718" y="162" width="13" height="7" fill="#000" />
<rect x="724.1" y="163" width="0.9" height="5" fill="#fff" class="g"/>
<g transform="translate(0.8,0.8)" class="g"><path d="M678.2,136.5 H695 Q697.2,136.5 697.2,138.7 V150 Q697.2,152.2 695,152.2 H678.2 Q676,152.2 676,150 V138.7 Q676,136.5 678.2,136.5 Z" fill="#000" stroke="#000" stroke-width="2.0"/><path d="M693.5,152.7 L706,160.5 L697.7,148.5 Z" fill="#000" stroke="#000" stroke-width="1.6" stroke-linejoin="miter"/></g>
<path d="M693.5,152.7 L706,160.5 L697.7,148.5 Z" fill="#fff" stroke="#000" stroke-width="1.6" class="g"/>
<path d="M678.2,136.5 H695 Q697.2,136.5 697.2,138.7 V150 Q697.2,152.2 695,152.2 H678.2 Q676,152.2 676,150 V138.7 Q676,136.5 678.2,136.5 Z" fill="#fff" stroke="#000" stroke-width="2.0" class="g"/>
<path d="M693.197,151.307 L696.265,148.238 L697.859,149.755 L694.79,152.824 Z" fill="#fff" class="g"/>
<text transform="translate(686.5,149.46) scale(0.8,1)" font-size="14" letter-spacing="2" text-anchor="middle" fill="#000" stroke="#000" stroke-width="0.3" font-weight="normal" >J8</text>
<g transform="translate(0.8,0.8)" class="g"><path d="M736.2,136.5 H752.5 Q754.7,136.5 754.7,138.7 V150 Q754.7,152.2 752.5,152.2 H736.2 Q734,152.2 734,150 V138.7 Q734,136.5 736.2,136.5 Z" fill="#000" stroke="#000" stroke-width="2.0"/><path d="M733.8,148.5 L725.5,160.5 L738,152.7 Z" fill="#000" stroke="#000" stroke-width="1.6" stroke-linejoin="miter"/></g>
<path d="M733.8,148.5 L725.5,160.5 L738,152.7 Z" fill="#fff" stroke="#000" stroke-width="1.6" class="g"/>
<path d="M736.2,136.5 H752.5 Q754.7,136.5 754.7,138.7 V150 Q754.7,152.2 752.5,152.2 H736.2 Q734,152.2 734,150 V138.7 Q734,136.5 736.2,136.5 Z" fill="#fff" stroke="#000" stroke-width="2.0" class="g"/>
<path d="M735.235,148.238 L738.303,151.307 L736.71,152.824 L733.641,149.755 Z" fill="#fff" class="g"/>
<text transform="translate(744.25,149.46) scale(0.8,1)" font-size="14" letter-spacing="2" text-anchor="middle" fill="#000" stroke="#000" stroke-width="0.3" font-weight="normal" >J7</text>
<path d="M674.5,226 H710.2 Q712.7,226 712.7,228.5 V238.3 Q712.7,240.8 710.2,240.8 H674.5 Q672,240.8 672,238.3 V228.5 Q672,226 674.5,226 Z" fill="#fff" class="g"/>
<text transform="translate(693.15,237.61) scale(0.8,1)" font-size="14" letter-spacing="2" text-anchor="middle" fill="#000" stroke="#000" stroke-width="0.3" font-weight="normal" >BIOS</text>
<path d="M659,276 H686.5 Q687,276 687,276.5 V290 Q687,290.5 686.5,290.5 H659 Q658.5,290.5 658.5,290 V276.5 Q658.5,276 659,276 Z" fill="#fff" class="g"/>
<text transform="translate(673.55,288.36) scale(0.8,1)" font-size="14" letter-spacing="2" text-anchor="middle" fill="#000" stroke="#000" stroke-width="0.3" font-weight="normal" >KBD</text>
<rect x="460.5" y="330.5" width="49.5" height="17" fill="#000" />
<rect x="511.3" y="330.5" width="2" height="17" fill="#000" />
<path d="M463.1,331.7 H507.2 Q508,331.7 508,332.5 V345 Q508,345.8 507.2,345.8 H463.1 Q462.3,345.8 462.3,345 V332.5 Q462.3,331.7 463.1,331.7 Z" fill="#fff" class="g"/>
<text transform="translate(484.125,342.96) scale(0.8,1)" font-size="14" letter-spacing="1.4375" text-anchor="middle" fill="#000" stroke="#000" stroke-width="0.3" font-weight="normal" >SLOT1</text>
<g transform="translate(0.8,0.8)" class="g"><path d="M570,16 H595.2 Q597.7,16 597.7,18.5 V29.7 Q597.7,32.2 595.2,32.2 H570 Q567.5,32.2 567.5,29.7 V18.5 Q567.5,16 570,16 Z" fill="#000" stroke="#000" stroke-width="2.0"/></g>
<path d="M570,16 H595.2 Q597.7,16 597.7,18.5 V29.7 Q597.7,32.2 595.2,32.2 H570 Q567.5,32.2 567.5,29.7 V18.5 Q567.5,16 570,16 Z" fill="#fff" stroke="#000" stroke-width="2.0" class="g"/>
<text transform="translate(582.5,29.21) scale(0.8,1)" font-size="14" letter-spacing="1.75" text-anchor="middle" fill="#000" stroke="#000" stroke-width="0.3" font-weight="normal" >C<tspan dx="1.125">N8</tspan></text>
<g transform="translate(0.8,0.8)" class="g"><path d="M136.7,37.7 H187 Q189.5,37.7 189.5,40.2 V51.6 Q189.5,54.1 187,54.1 H136.7 Q134.2,54.1 134.2,51.6 V40.2 Q134.2,37.7 136.7,37.7 Z" fill="#000" stroke="#000" stroke-width="1.4"/></g>
<path d="M136.7,37.7 H187 Q189.5,37.7 189.5,40.2 V51.6 Q189.5,54.1 187,54.1 H136.7 Q134.2,54.1 134.2,51.6 V40.2 Q134.2,37.7 136.7,37.7 Z" fill="#fff" stroke="#000" stroke-width="1.4" class="g"/>
<text transform="translate(161.75,51.01) scale(0.8,1)" font-size="14" letter-spacing="2" text-anchor="middle" fill="#000" stroke="#000" stroke-width="0.3" font-weight="normal" >BANK 1</text>
<g transform="translate(0.8,0.8)" class="g"><path d="M136.7,88.7 H187 Q189.5,88.7 189.5,91.2 V102.6 Q189.5,105.1 187,105.1 H136.7 Q134.2,105.1 134.2,102.6 V91.2 Q134.2,88.7 136.7,88.7 Z" fill="#000" stroke="#000" stroke-width="1.4"/></g>
<path d="M136.7,88.7 H187 Q189.5,88.7 189.5,91.2 V102.6 Q189.5,105.1 187,105.1 H136.7 Q134.2,105.1 134.2,102.6 V91.2 Q134.2,88.7 136.7,88.7 Z" fill="#fff" stroke="#000" stroke-width="1.4" class="g"/>
<text transform="translate(161.75,102.01) scale(0.8,1)" font-size="14" letter-spacing="2" text-anchor="middle" fill="#000" stroke="#000" stroke-width="0.3" font-weight="normal" >BANK 0</text>
<g transform="translate(0.8,0.8)" class="g"><path d="M391.5,31.5 H431.7 Q434.7,31.5 434.7,34.5 V43.7 Q434.7,46.7 431.7,46.7 H391.5 Q388.5,46.7 388.5,43.7 V34.5 Q388.5,31.5 391.5,31.5 Z" fill="#000" stroke="#000" stroke-width="2.0"/></g>
<path d="M391.5,31.5 H431.7 Q434.7,31.5 434.7,34.5 V43.7 Q434.7,46.7 431.7,46.7 H391.5 Q388.5,46.7 388.5,43.7 V34.5 Q388.5,31.5 391.5,31.5 Z" fill="#fff" stroke="#000" stroke-width="2.0" class="g"/>
<text transform="translate(411.55,44.21) scale(0.8,1)" font-size="14" letter-spacing="2.125" text-anchor="middle" fill="#000" stroke="#000" stroke-width="0.3" font-weight="normal" >VRAM</text>
<rect x="343" y="79" width="59.5" height="16.2" fill="#000" />
<rect x="345" y="80" width="55.3" height="13.3" fill="#fff" />
<text transform="translate(373,91.2) scale(0.8,1)" font-size="14" letter-spacing="1.8125" text-anchor="middle" fill="#000" stroke="#000" stroke-width="0.3" font-weight="normal" >BANK 1</text>
<g transform="translate(0.8,0.8)" class="g"><path d="M423.5,78.7 H477 Q478.8,78.7 478.8,80.5 V92.7 Q478.8,94.5 477,94.5 H423.5 Q421.7,94.5 421.7,92.7 V80.5 Q421.7,78.7 423.5,78.7 Z" fill="#000" stroke="#000" stroke-width="1.4"/></g>
<path d="M423.5,78.7 H477 Q478.8,78.7 478.8,80.5 V92.7 Q478.8,94.5 477,94.5 H423.5 Q421.7,94.5 421.7,92.7 V80.5 Q421.7,78.7 423.5,78.7 Z" fill="#fff" stroke="#000" stroke-width="1.4" class="g"/>
<text transform="translate(450.15,90.91) scale(0.8,1)" font-size="14" letter-spacing="2" text-anchor="middle" fill="#000" stroke="#000" stroke-width="0.3" font-weight="normal" >BANK 0</text>
<text transform="translate(668,27.5) scale(0.85,1)" font-size="11.5" letter-spacing="1.17647" text-anchor="start" fill="#000" stroke="#000" stroke-width="0.3" font-weight="normal" >MH1474</text>
</svg>
</body>
</html>
